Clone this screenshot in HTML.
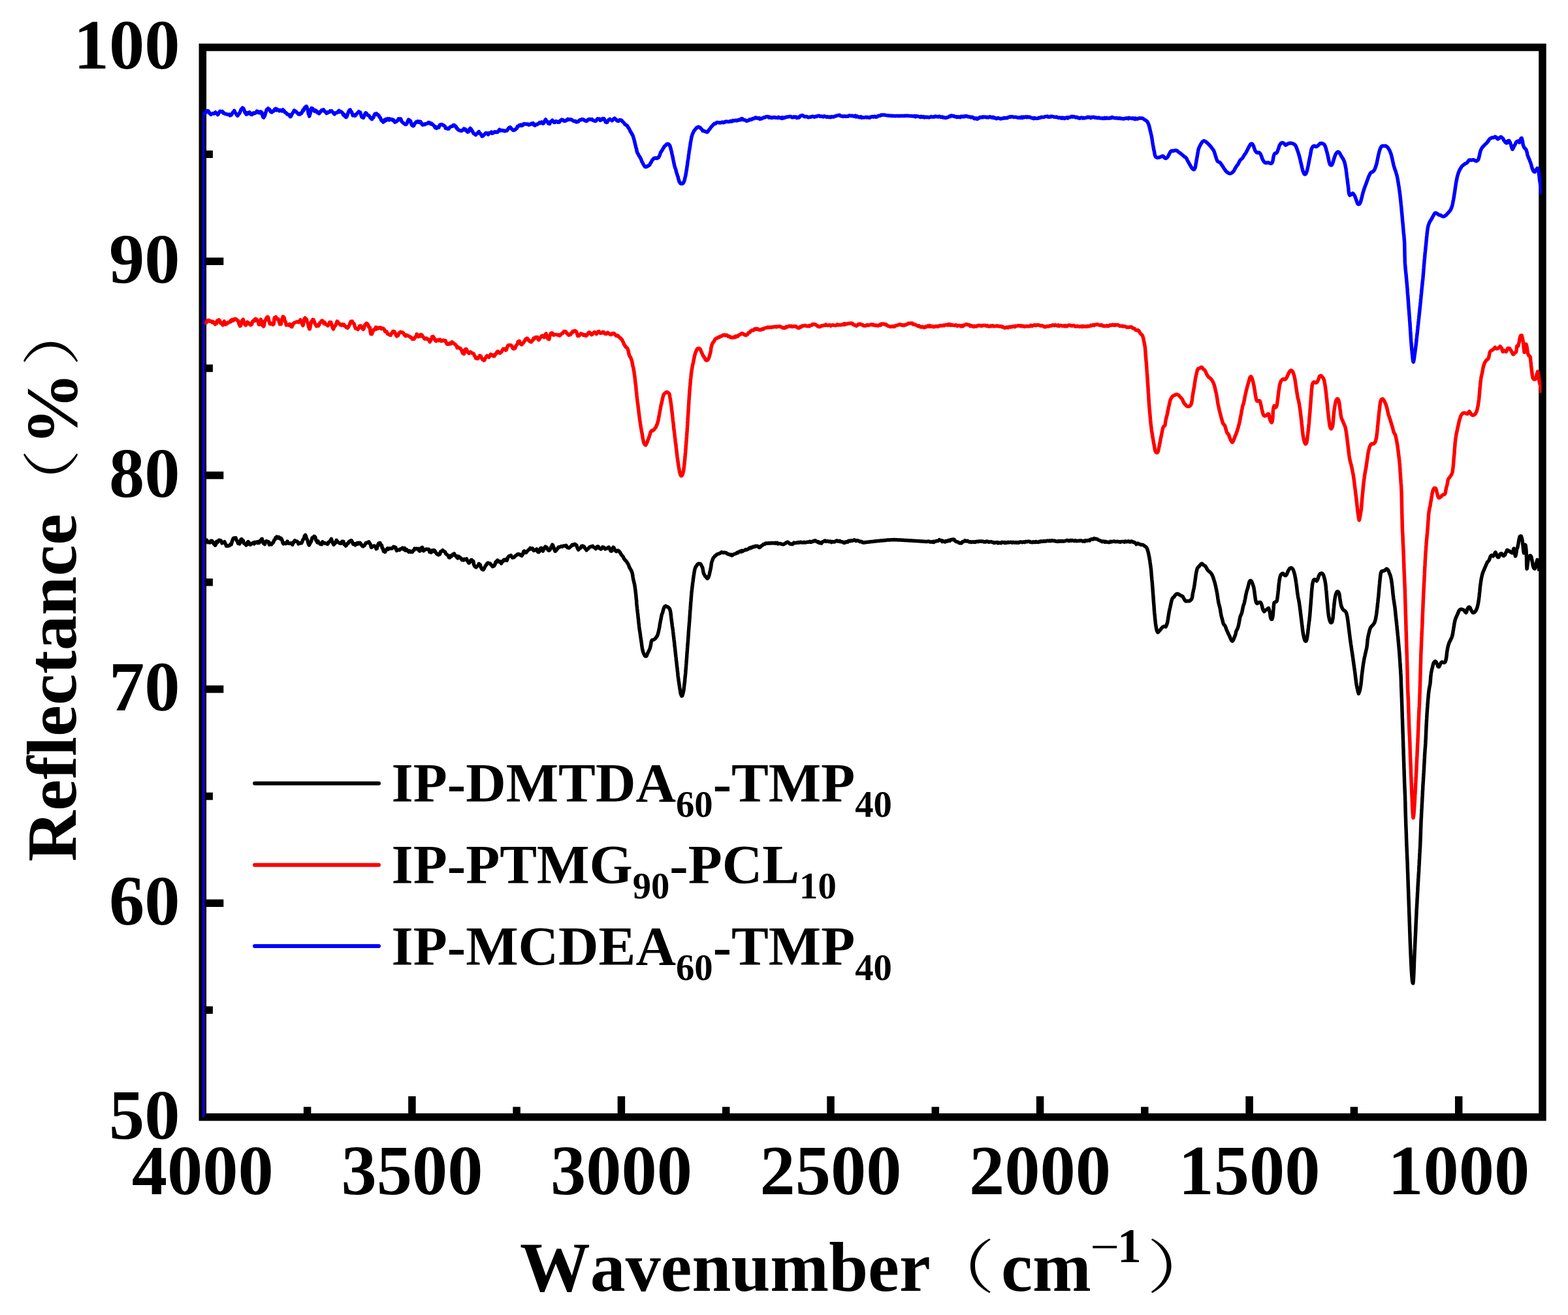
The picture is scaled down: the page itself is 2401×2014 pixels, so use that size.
<!DOCTYPE html>
<html lang="en"><head><meta charset="utf-8"><title>FTIR Reflectance Spectra</title>
<style>
html,body{margin:0;padding:0;background:#fff;}
body{width:2401px;height:2014px;overflow:hidden;}
svg{display:block;}
text{font-family:"Liberation Serif","Noto Serif CJK SC",serif;font-weight:bold;fill:#000;font-kerning:none;white-space:pre;}
.mn{font-weight:normal;}
.cjk{font-family:"Noto Serif CJK SC","Liberation Serif",serif;font-weight:normal;}
</style></head><body>
<svg width="2401" height="2014" viewBox="0 0 2401 2014">
<rect width="2401" height="2014" fill="#fff"/>
<rect x="310.3" y="72.5" width="2051.6" height="1638.4" fill="none" stroke="#000" stroke-width="11.5"/>
<path d="M470.6 1710.9 v-15.6 M630.9 1710.9 v-32.0 M791.1 1710.9 v-15.6 M951.4 1710.9 v-32.0 M1111.7 1710.9 v-15.6 M1272.0 1710.9 v-32.0 M1432.3 1710.9 v-15.6 M1592.6 1710.9 v-32.0 M1752.8 1710.9 v-15.6 M1913.1 1710.9 v-32.0 M2073.4 1710.9 v-15.6 M2233.7 1710.9 v-32.0 M310.3 1547.1 h15.6 M310.3 1383.2 h32.0 M310.3 1219.4 h15.6 M310.3 1055.5 h32.0 M310.3 891.7 h15.6 M310.3 727.9 h32.0 M310.3 564.0 h15.6 M310.3 400.2 h32.0 M310.3 236.3 h15.6" stroke="#000" stroke-width="11.5" fill="none"/>
<clipPath id="pc"><rect x="309.9" y="72.5" width="2050.6" height="1638.4"/></clipPath>
<g clip-path="url(#pc)" fill="none" stroke-width="5.5" stroke-linejoin="round" stroke-linecap="butt">
<path d="M310.45 1760 L310.45 827.0 L316.2 827.0 317.1 828.2 318.3 830.7 319.7 830.3 321.0 831.0 322.0 830.8 322.9 828.3 323.8 828.3 324.8 828.5 325.6 830.4 326.5 830.4 327.4 833.2 328.6 833.4 329.5 835.2 330.7 833.3 331.8 829.3 333.1 830.6 334.2 829.1 335.2 827.3 336.6 827.6 337.8 827.7 338.9 829.1 340.0 832.0 341.0 830.6 342.0 830.6 342.9 830.4 343.8 829.7 344.7 832.1 345.6 833.4 346.5 836.1 347.6 835.8 348.7 836.3 349.9 835.7 351.2 835.8 352.3 834.5 353.3 833.1 354.2 833.8 354.8 831.6 355.4 828.9 356.2 826.9 357.2 824.7 358.5 823.9 359.7 824.1 361.0 823.8 362.1 827.6 363.3 828.5 364.5 832.1 365.7 831.5 366.7 832.9 367.8 831.0 368.8 826.4 369.8 825.6 370.9 827.6 372.1 827.5 373.4 832.0 374.6 832.8 375.8 833.3 376.9 835.0 377.9 834.2 378.9 830.9 380.0 829.6 381.1 830.8 382.2 833.9 383.4 834.2 384.8 832.5 385.8 832.8 386.9 831.8 388.0 831.1 389.2 832.9 390.4 830.3 391.4 831.2 392.7 830.6 393.9 829.8 395.0 831.7 396.1 829.6 397.1 831.1 398.3 828.2 399.4 827.7 400.4 825.6 401.3 825.4 402.4 829.6 403.3 832.1 404.4 832.2 405.4 833.6 406.6 829.6 407.9 828.6 409.0 829.3 410.1 829.5 411.1 829.7 412.4 834.1 413.4 831.8 414.6 832.1 415.8 833.8 417.0 832.0 418.1 831.2 419.2 828.9 420.2 826.8 421.1 826.2 421.9 823.4 422.9 823.4 423.7 822.1 424.8 822.2 425.8 824.0 427.0 822.6 428.2 823.5 429.5 825.5 430.6 824.7 431.8 826.6 433.0 831.3 434.1 832.8 435.2 832.0 436.5 831.8 437.6 832.6 438.7 832.0 440.0 829.0 441.0 831.8 442.1 832.2 443.3 832.1 444.4 832.3 445.6 831.8 446.7 831.7 447.9 834.2 449.0 830.4 450.1 830.5 451.3 827.8 452.4 829.2 453.5 828.9 454.7 829.0 455.9 830.0 457.0 833.0 458.1 831.4 459.4 831.7 460.5 832.0 461.7 831.7 462.9 829.4 464.0 826.1 465.2 825.4 466.4 820.6 467.6 819.4 468.5 821.6 469.5 824.8 470.5 826.6 471.5 830.2 472.4 833.2 473.3 835.0 474.4 832.7 475.4 831.0 476.3 829.6 477.2 826.9 478.1 823.9 479.1 823.0 480.1 822.5 481.0 821.4 481.9 821.8 482.8 822.8 483.8 827.4 484.7 828.3 485.7 830.6 486.8 828.6 488.0 831.7 489.2 832.0 490.5 833.3 491.6 831.8 492.7 833.6 493.9 829.9 495.0 831.0 496.2 831.4 497.3 832.1 498.5 832.0 499.6 832.5 500.8 833.1 501.9 833.3 503.0 830.4 504.1 829.9 505.2 828.8 506.3 827.3 507.2 825.3 508.3 828.0 509.2 830.9 510.0 832.6 511.0 834.2 512.0 833.0 513.0 832.3 514.1 830.7 515.2 827.4 516.2 828.6 517.4 830.2 518.7 831.1 519.8 831.9 521.0 831.5 521.9 832.3 522.9 830.8 523.8 829.4 524.8 830.6 525.8 829.3 527.0 833.7 528.2 833.3 529.5 836.1 530.5 835.0 531.6 832.8 532.8 832.6 534.0 830.2 535.1 829.1 536.2 829.5 537.4 827.7 538.5 828.1 539.7 830.8 540.8 833.5 541.9 832.8 543.1 832.8 544.2 834.8 545.4 833.4 546.5 832.0 547.6 833.2 548.9 831.3 550.1 832.6 551.2 831.4 552.4 832.6 553.5 834.7 554.6 836.2 555.8 836.9 557.1 835.3 558.1 835.4 559.2 833.4 560.4 831.4 561.6 831.3 562.8 831.2 563.8 830.4 564.8 829.8 566.0 832.1 566.8 832.8 567.6 835.6 568.6 838.4 569.7 837.8 571.0 836.5 572.3 836.0 573.3 836.1 574.4 836.8 575.2 838.1 576.2 840.7 577.1 840.2 578.0 836.7 579.0 833.6 580.0 832.2 581.0 834.5 581.9 831.5 582.9 834.1 583.8 834.6 584.5 835.4 585.2 839.4 586.0 839.4 586.7 842.1 587.6 844.5 588.6 843.3 589.7 845.4 590.9 842.5 592.1 841.1 593.3 839.9 594.4 841.3 595.6 840.1 596.7 840.2 597.9 839.8 599.0 839.9 600.0 840.1 601.3 839.0 602.6 837.3 603.7 838.4 604.8 837.9 605.7 838.3 606.5 841.3 607.4 843.4 608.6 842.2 609.5 842.4 610.5 842.1 611.6 842.5 612.7 841.1 613.9 840.7 615.1 840.6 616.2 839.2 617.3 840.7 618.4 841.5 619.5 839.4 620.5 843.0 621.6 843.0 622.7 841.6 623.8 843.2 624.9 844.1 626.0 845.3 627.2 843.6 628.3 844.4 629.4 845.5 630.4 845.1 631.4 845.4 632.7 843.1 633.9 842.7 634.9 840.0 636.0 840.8 637.1 840.6 638.3 840.2 639.6 841.2 640.8 840.4 641.9 843.5 642.9 844.0 644.0 842.8 644.8 839.3 645.7 839.2 646.6 838.4 647.5 842.1 648.5 843.6 649.5 842.8 650.6 841.6 651.8 841.7 653.1 841.0 654.3 841.4 655.5 841.2 656.7 841.2 657.9 845.4 659.0 843.8 660.2 846.1 661.2 843.2 662.4 842.9 663.8 844.3 664.7 842.6 665.8 843.4 666.9 845.6 668.0 847.3 669.2 848.7 670.3 848.8 671.4 849.9 672.5 848.1 673.6 848.8 674.6 844.9 675.7 844.2 676.8 844.1 677.9 842.7 679.0 844.1 680.2 844.5 681.5 845.5 682.8 848.2 684.0 849.2 685.3 850.1 686.5 851.7 687.6 853.9 688.9 854.1 690.0 851.2 691.1 852.0 692.2 851.2 693.3 848.9 694.3 848.7 695.5 848.0 696.7 850.2 697.9 851.4 699.0 853.0 700.0 852.0 701.1 855.0 702.0 853.2 702.8 852.4 703.8 853.8 704.9 854.1 706.1 855.5 707.4 857.7 708.6 856.7 709.8 857.8 711.0 856.4 712.2 856.9 713.3 856.6 714.4 855.8 715.3 858.3 716.2 859.2 717.1 861.2 718.1 862.2 719.1 861.5 720.0 859.2 721.0 858.0 722.2 857.3 723.3 858.5 724.4 860.4 725.0 860.0 725.4 864.5 725.9 865.0 726.7 867.2 727.7 867.8 729.0 868.9 730.3 867.2 731.4 866.7 732.5 866.2 733.3 863.3 734.3 864.9 735.3 865.0 736.5 869.1 737.7 871.3 739.0 872.4 740.1 872.7 741.3 870.7 742.5 868.3 743.7 866.2 744.8 864.9 746.0 862.7 747.1 862.0 748.3 862.7 749.5 862.8 750.6 863.1 751.8 865.2 753.0 865.9 754.2 867.7 755.2 866.4 756.3 867.0 757.3 865.6 758.1 864.0 759.0 860.9 760.0 859.9 760.9 860.5 761.8 858.0 762.9 859.9 764.0 860.3 765.2 859.7 766.5 861.2 767.6 863.0 768.6 861.1 769.5 859.2 770.4 859.5 771.4 857.4 772.6 858.3 773.8 857.0 775.0 858.1 776.2 858.5 777.2 855.2 778.1 853.3 779.0 852.2 780.0 851.4 781.1 851.6 782.3 850.6 783.5 852.7 784.8 854.1 786.0 853.5 787.1 853.7 788.3 852.1 789.5 851.2 790.7 850.4 792.0 849.0 793.2 849.1 794.3 848.5 795.3 849.1 796.2 849.3 797.2 850.5 798.1 850.8 799.0 851.2 800.0 849.7 801.0 847.5 801.9 844.3 802.9 844.0 803.8 846.4 804.8 845.7 805.7 846.4 806.6 844.7 807.6 844.0 808.5 843.0 809.5 841.8 810.7 841.5 811.9 839.5 813.1 840.6 814.3 840.9 815.3 839.9 816.2 841.6 817.2 843.3 818.1 843.1 819.1 842.5 820.1 841.9 821.0 842.1 821.9 840.9 822.9 844.0 823.8 845.4 824.8 845.7 825.7 844.9 826.7 842.3 827.7 839.8 828.6 839.2 829.6 840.0 830.4 843.3 831.4 844.0 832.3 841.6 833.2 840.8 834.2 838.2 835.2 837.2 836.2 837.9 837.3 838.6 838.4 841.4 839.6 842.9 840.6 843.2 841.8 842.4 842.9 840.5 843.9 837.6 844.8 836.7 845.8 834.2 846.7 835.4 847.4 837.4 848.2 839.1 849.1 842.3 850.1 844.2 851.1 843.8 852.0 841.6 853.1 841.2 854.3 839.3 855.3 838.0 856.5 838.1 857.6 837.5 858.8 837.1 860.0 836.5 861.1 837.3 862.3 836.2 863.4 836.1 864.6 836.1 865.7 836.6 866.9 835.4 868.0 837.5 869.2 838.8 870.3 838.8 871.4 839.3 872.7 838.1 873.8 837.1 875.0 836.0 876.2 834.4 877.3 834.1 878.5 834.7 879.7 833.6 880.9 833.5 881.9 834.6 883.0 835.5 883.9 838.7 884.7 840.4 885.7 842.0 886.9 840.3 888.1 839.8 889.3 838.5 890.5 836.3 891.5 837.5 892.4 836.2 893.4 837.0 894.3 837.1 895.2 838.6 896.1 840.3 897.1 840.7 898.1 842.7 899.2 841.4 900.4 840.5 901.6 839.3 902.9 838.0 904.0 837.2 905.2 837.2 906.4 836.7 907.6 836.3 908.9 837.9 910.1 838.6 911.3 839.5 912.4 840.5 913.4 839.1 914.3 837.2 915.2 837.1 916.1 837.0 917.0 839.1 918.0 840.1 919.0 839.8 920.2 841.0 921.4 840.1 922.7 837.9 923.8 838.8 924.8 838.4 925.7 839.3 926.6 840.8 927.6 840.1 928.8 840.1 930.0 839.7 931.2 838.6 932.4 838.1 933.4 840.2 934.4 842.1 935.3 843.9 936.2 844.1 937.2 843.3 938.1 840.1 939.0 838.2 939.9 838.7 940.9 841.1 941.9 842.5 942.9 844.2 943.8 844.7 944.8 843.9 945.8 843.1 946.7 843.4 947.7 843.8 948.5 845.2 949.5 846.2 950.4 847.9 951.4 849.3 952.4 850.7 953.3 851.6 954.3 852.9 955.2 855.2 956.2 856.5 957.1 857.7 958.2 858.8 959.3 859.9 960.3 861.6 961.3 863.0 962.3 864.9 963.1 867.1 964.0 869.4 964.8 870.6 965.8 872.3 966.8 874.3 967.6 876.1 968.1 877.8 968.4 879.0 968.8 881.2 969.1 883.7 969.5 886.1 970.0 888.5 970.5 890.1 971.0 892.8 971.5 894.6 972.0 897.2 972.3 899.8 972.6 901.7 972.9 904.0 973.2 906.0 973.4 908.4 973.7 910.3 973.9 912.7 974.1 915.3 974.3 917.5 974.5 918.8 974.7 921.0 974.8 923.9 975.0 925.9 975.2 928.4 975.5 930.1 975.7 932.8 976.0 935.1 976.3 938.1 976.6 940.1 976.9 942.9 977.1 945.7 977.4 947.5 977.7 950.2 977.9 952.8 978.2 955.5 978.5 957.4 978.7 959.8 979.0 962.0 979.4 965.3 979.7 967.0 980.1 969.5 980.5 972.5 980.8 974.9 981.2 977.5 981.5 979.3 981.9 982.3 982.2 984.0 982.5 986.4 982.8 989.1 983.1 990.5 983.4 992.7 984.0 995.7 984.5 997.9 985.1 999.5 985.7 1001.1 986.7 1003.1 987.7 1004.7 988.6 1005.1 989.3 1005.0 990.0 1004.6 990.7 1002.9 991.5 1001.2 992.3 999.2 993.5 997.0 994.8 994.1 995.4 992.4 996.1 989.5 996.6 987.2 996.9 985.0 997.2 983.3 997.7 981.6 998.6 980.2 999.7 980.2 1000.8 979.9 1001.9 979.1 1003.1 978.2 1004.2 977.1 1005.1 975.6 1006.0 974.5 1006.8 973.0 1007.5 970.6 1008.1 968.6 1008.7 965.9 1009.1 963.6 1009.5 962.2 1009.9 960.3 1010.2 957.7 1010.5 955.4 1010.9 953.9 1011.2 952.0 1011.6 950.0 1012.0 948.4 1012.4 946.0 1012.8 944.1 1013.3 941.5 1013.9 940.0 1014.6 938.4 1015.2 935.9 1015.7 933.9 1016.1 932.5 1016.7 931.1 1017.4 929.1 1018.3 928.9 1019.3 928.0 1020.3 928.8 1021.3 929.2 1022.3 929.5 1023.4 930.1 1024.5 931.4 1025.4 932.4 1026.0 934.3 1026.5 936.1 1026.9 938.4 1027.2 941.2 1027.5 943.1 1027.7 945.3 1028.0 947.7 1028.3 950.1 1028.6 952.4 1028.9 954.8 1029.2 956.7 1029.4 959.1 1029.7 960.9 1030.1 963.2 1030.4 965.2 1030.6 967.3 1030.9 969.4 1031.1 971.5 1031.3 973.2 1031.5 975.2 1031.8 977.4 1032.0 979.5 1032.2 981.2 1032.5 983.2 1032.7 985.0 1032.9 987.7 1033.1 990.0 1033.4 991.4 1033.6 993.2 1033.8 995.3 1034.0 997.5 1034.3 999.4 1034.5 1002.2 1034.7 1003.3 1034.9 1005.6 1035.2 1007.4 1035.4 1010.0 1035.6 1012.2 1035.9 1013.6 1036.1 1015.5 1036.3 1018.0 1036.5 1020.2 1036.8 1022.6 1037.0 1023.7 1037.2 1025.8 1037.4 1027.9 1037.7 1030.0 1037.9 1032.1 1038.1 1034.7 1038.3 1036.6 1038.6 1038.2 1038.9 1040.5 1039.2 1042.9 1039.6 1045.0 1039.9 1047.8 1040.3 1049.7 1040.6 1052.3 1041.0 1054.9 1041.3 1056.6 1041.7 1058.8 1042.1 1061.5 1042.6 1063.3 1043.2 1064.8 1043.9 1066.0 1044.7 1065.7 1045.4 1063.4 1045.9 1061.6 1046.3 1059.6 1046.8 1058.2 1047.1 1056.1 1047.3 1053.4 1047.6 1051.2 1047.9 1048.7 1048.1 1046.5 1048.4 1045.2 1048.6 1042.8 1048.8 1040.3 1049.0 1038.0 1049.2 1036.4 1049.4 1034.3 1049.6 1032.7 1049.8 1030.5 1049.9 1028.4 1050.1 1025.9 1050.3 1023.8 1050.4 1021.9 1050.6 1019.8 1050.7 1018.4 1050.9 1016.0 1051.0 1014.1 1051.2 1012.4 1051.4 1009.6 1051.5 1007.9 1051.7 1005.4 1051.8 1004.0 1051.9 1001.2 1052.1 1000.0 1052.2 998.0 1052.4 995.9 1052.5 993.1 1052.7 991.2 1052.8 989.7 1053.0 987.0 1053.2 985.3 1053.3 983.3 1053.5 981.7 1053.6 979.3 1053.8 977.6 1053.9 974.9 1054.1 973.4 1054.2 971.0 1054.3 969.4 1054.5 966.5 1054.6 965.3 1054.8 962.6 1054.9 960.9 1055.1 958.8 1055.3 956.4 1055.4 955.1 1055.6 952.5 1055.8 950.4 1055.9 948.1 1056.1 946.3 1056.2 944.5 1056.3 942.7 1056.5 940.3 1056.6 938.6 1056.7 935.9 1056.9 934.2 1057.1 932.2 1057.2 930.7 1057.4 928.5 1057.5 926.3 1057.7 923.6 1057.8 921.9 1058.0 920.2 1058.2 917.7 1058.3 916.0 1058.5 914.0 1058.6 911.8 1058.7 911.1 1058.9 908.7 1059.2 905.4 1059.5 903.9 1059.7 901.3 1060.0 898.9 1060.3 896.5 1060.6 893.6 1061.0 891.1 1061.3 888.6 1061.6 886.5 1061.9 884.0 1062.3 881.2 1062.7 879.2 1063.0 876.5 1063.4 875.0 1063.7 872.7 1064.2 871.2 1065.2 868.2 1066.4 866.9 1067.6 864.8 1068.5 864.0 1069.5 863.2 1070.5 863.4 1071.4 863.5 1072.4 863.6 1073.4 864.8 1074.4 866.7 1075.2 868.2 1075.8 869.5 1076.2 871.9 1076.6 874.2 1077.0 876.4 1077.5 878.5 1078.6 880.2 1079.9 882.6 1081.0 883.3 1082.2 885.2 1083.2 886.0 1084.4 884.8 1085.7 881.8 1086.3 879.3 1086.9 876.7 1087.5 874.1 1088.1 870.9 1088.6 868.9 1088.9 866.7 1089.2 864.8 1089.4 862.4 1090.0 860.2 1090.9 858.0 1092.0 854.9 1093.3 853.3 1095.0 851.4 1096.0 851.0 1097.2 849.3 1098.5 848.8 1099.8 848.2 1101.2 847.9 1102.5 847.3 1103.8 846.5 1105.0 845.5 1106.3 846.3 1107.5 846.6 1108.7 846.2 1109.8 846.3 1111.0 846.9 1112.2 846.8 1113.3 848.0 1114.5 848.8 1115.7 848.5 1116.9 849.3 1118.1 849.9 1119.3 849.3 1120.5 850.7 1121.7 850.2 1122.9 849.3 1124.0 848.6 1125.2 848.3 1126.4 848.1 1127.6 847.5 1128.8 846.3 1130.0 846.7 1131.2 845.3 1132.4 845.1 1133.6 844.2 1134.8 845.2 1136.0 843.5 1137.1 844.4 1138.3 843.4 1139.5 843.0 1140.7 842.5 1141.8 841.6 1143.0 842.1 1144.2 841.7 1145.4 841.0 1146.7 840.2 1147.9 839.0 1149.1 839.6 1150.4 838.2 1151.8 838.7 1153.1 837.2 1154.4 837.3 1155.6 837.4 1156.7 836.2 1158.0 836.7 1159.1 836.2 1160.2 836.5 1161.2 837.1 1162.3 838.5 1163.3 838.4 1164.4 837.5 1165.4 836.2 1166.5 835.9 1167.5 835.1 1168.7 833.8 1170.0 833.5 1171.1 833.5 1172.3 832.0 1173.5 832.1 1174.8 832.3 1176.1 831.7 1177.4 832.0 1178.7 832.2 1180.0 831.5 1181.2 832.0 1182.5 831.5 1183.8 831.9 1185.0 831.6 1186.2 832.1 1187.5 831.2 1188.8 832.2 1190.0 831.4 1191.3 832.9 1192.6 832.5 1194.0 832.6 1195.3 832.7 1196.6 833.3 1197.9 833.6 1199.0 833.8 1200.0 833.7 1201.6 832.6 1202.7 832.3 1203.8 831.0 1205.0 830.6 1206.0 830.1 1207.1 830.7 1208.2 831.7 1209.4 833.0 1210.5 833.1 1211.7 833.4 1212.7 833.1 1213.7 833.5 1214.7 832.1 1215.7 831.1 1216.9 831.7 1218.3 831.6 1219.3 831.3 1220.4 831.0 1221.5 831.3 1222.7 830.6 1224.0 831.1 1225.2 830.3 1226.5 830.4 1227.7 830.9 1228.9 831.0 1230.0 830.8 1231.3 830.2 1232.7 831.1 1233.9 830.8 1235.2 830.2 1236.4 830.2 1237.7 830.2 1238.8 829.8 1240.0 829.3 1241.3 830.4 1242.5 830.2 1243.7 829.3 1244.8 829.3 1246.0 828.3 1247.2 828.8 1248.3 827.9 1249.5 829.0 1250.8 829.2 1252.0 830.4 1253.2 829.8 1254.4 831.5 1255.6 830.9 1256.7 831.7 1257.8 832.2 1258.9 830.2 1259.9 829.9 1260.9 829.3 1262.0 828.7 1263.3 828.0 1264.4 829.3 1265.6 829.3 1266.8 828.8 1268.1 829.0 1269.4 829.7 1270.8 829.1 1272.1 829.2 1273.3 830.6 1274.6 829.6 1275.8 829.7 1277.1 830.1 1278.3 829.8 1279.6 828.8 1280.8 828.1 1282.1 828.1 1283.3 829.0 1284.6 829.1 1285.8 828.3 1286.9 829.7 1288.1 829.4 1289.3 830.0 1290.6 829.9 1291.9 831.2 1293.3 831.4 1294.4 830.1 1295.6 830.5 1296.8 829.5 1298.1 830.2 1299.4 828.5 1300.6 828.2 1301.9 828.7 1303.2 827.7 1304.4 828.3 1305.6 828.0 1306.7 827.7 1308.1 826.8 1309.5 827.8 1310.8 828.4 1312.1 828.0 1313.3 827.7 1314.5 828.3 1315.6 828.8 1316.7 829.7 1317.9 829.2 1318.9 829.4 1319.8 829.8 1320.7 830.7 1321.9 831.1 1323.3 830.5 1324.3 830.9 1325.4 830.6 1326.5 830.5 1327.7 830.3 1328.9 830.2 1330.2 830.1 1331.5 830.0 1332.8 829.7 1334.2 829.6 1335.4 829.4 1336.7 829.4 1337.9 829.2 1339.0 829.1 1340.2 829.0 1341.4 828.8 1342.5 828.7 1343.7 828.6 1344.9 828.5 1346.1 828.4 1347.4 828.2 1348.7 828.1 1350.0 828.0 1351.1 827.9 1352.2 827.8 1353.4 827.7 1354.5 827.5 1355.7 827.5 1356.9 827.4 1358.1 827.1 1359.3 827.1 1360.6 827.0 1361.8 826.9 1363.0 826.9 1364.3 826.8 1365.5 826.7 1366.7 826.7 1367.9 826.7 1369.0 826.6 1370.2 826.7 1371.4 826.7 1372.6 826.7 1373.8 826.8 1375.0 826.9 1376.2 826.9 1377.4 827.0 1378.6 827.1 1379.8 827.1 1381.0 827.2 1382.1 827.2 1383.3 827.3 1384.5 827.4 1385.7 827.5 1386.9 827.6 1388.1 827.6 1389.3 827.7 1390.5 827.7 1391.7 827.8 1392.9 827.9 1394.0 828.0 1395.2 828.0 1396.4 828.1 1397.6 828.2 1398.8 828.3 1400.0 828.3 1401.2 828.5 1402.4 828.4 1403.6 828.5 1404.9 828.6 1406.1 828.7 1407.3 828.8 1408.5 828.8 1409.8 828.9 1411.0 829.0 1412.1 829.0 1413.3 829.2 1414.5 829.2 1415.6 829.3 1416.7 829.4 1418.0 829.4 1419.4 829.5 1420.7 829.3 1422.0 829.0 1423.2 829.6 1424.5 830.1 1425.7 830.1 1426.8 829.7 1427.9 830.2 1429.0 829.4 1430.0 830.5 1431.5 829.2 1432.8 829.0 1434.0 828.3 1435.1 828.6 1436.2 828.4 1437.3 827.9 1438.3 826.6 1439.5 827.3 1440.6 827.6 1441.7 827.8 1442.7 829.5 1443.8 828.4 1445.0 829.3 1446.1 829.7 1447.3 830.0 1448.5 828.4 1449.8 828.7 1451.0 828.9 1452.2 827.5 1453.3 827.6 1454.5 828.3 1455.6 826.7 1456.6 826.7 1457.6 826.3 1458.7 826.4 1460.0 826.0 1461.1 826.3 1462.3 828.5 1463.7 829.0 1465.0 829.8 1466.3 829.9 1467.7 830.7 1468.9 831.8 1470.0 831.6 1471.2 831.8 1472.2 832.0 1473.1 830.4 1474.1 829.5 1475.2 829.8 1476.7 828.8 1477.6 827.9 1478.6 828.5 1479.7 829.0 1480.9 828.2 1482.1 828.8 1483.3 829.6 1484.6 830.0 1485.9 829.8 1487.3 830.4 1488.6 829.9 1490.0 829.8 1491.1 830.5 1492.2 829.8 1493.4 830.4 1494.5 829.4 1495.7 829.6 1496.9 829.2 1498.1 829.7 1499.3 829.0 1500.6 829.0 1501.8 829.0 1503.0 829.3 1504.3 829.0 1505.5 829.2 1506.7 830.1 1507.9 829.7 1509.0 830.0 1510.2 829.1 1511.4 829.5 1512.6 829.2 1513.8 830.3 1515.0 829.9 1516.2 829.9 1517.4 829.7 1518.6 830.1 1519.8 830.3 1521.0 830.7 1522.1 831.6 1523.3 831.3 1524.5 830.7 1525.7 830.9 1526.9 830.6 1528.1 831.8 1529.3 830.9 1530.5 831.5 1531.7 831.5 1532.9 831.7 1534.0 830.3 1535.2 830.8 1536.4 830.8 1537.6 830.4 1538.8 831.6 1540.0 830.7 1541.2 831.4 1542.4 831.0 1543.6 830.3 1544.9 830.9 1546.1 830.6 1547.3 830.3 1548.5 830.5 1549.8 831.2 1551.0 830.3 1552.1 830.8 1553.3 830.9 1554.5 831.1 1555.6 830.5 1556.7 831.3 1558.0 830.6 1559.3 831.2 1560.5 831.0 1561.8 830.1 1563.0 830.1 1564.1 830.1 1565.3 830.7 1566.5 830.1 1567.6 830.0 1568.8 830.6 1570.0 829.6 1571.2 829.6 1572.4 829.7 1573.6 829.5 1574.8 829.2 1576.1 829.2 1577.3 830.2 1578.5 830.1 1579.7 830.5 1580.9 830.8 1582.1 829.7 1583.3 830.3 1584.5 830.6 1585.8 829.5 1587.0 830.2 1588.2 830.1 1589.4 830.5 1590.6 830.3 1591.8 829.2 1593.0 829.8 1594.2 828.8 1595.5 829.3 1596.7 829.2 1597.9 828.6 1599.1 829.0 1600.3 828.8 1601.5 828.9 1602.7 828.4 1603.9 828.1 1605.2 828.4 1606.4 828.4 1607.6 827.9 1608.8 828.6 1610.0 827.9 1611.2 827.7 1612.4 828.2 1613.6 828.4 1614.8 828.1 1616.1 828.9 1617.3 829.2 1618.5 829.1 1619.7 829.5 1620.9 828.5 1622.1 829.2 1623.3 829.1 1624.5 828.6 1625.8 829.1 1627.0 828.4 1628.2 829.0 1629.4 828.9 1630.6 828.6 1631.8 828.2 1633.0 827.9 1634.2 827.4 1635.5 827.8 1636.7 828.6 1637.9 828.1 1639.1 827.5 1640.3 828.2 1641.5 827.4 1642.7 827.8 1643.9 828.1 1645.2 828.6 1646.4 827.7 1647.6 828.1 1648.8 828.7 1650.0 828.4 1651.2 828.2 1652.4 828.3 1653.6 828.0 1654.8 828.1 1656.1 828.0 1657.3 828.9 1658.5 829.0 1659.7 828.3 1660.9 829.1 1662.1 827.7 1663.3 827.8 1664.6 828.2 1665.8 827.6 1667.1 827.4 1668.3 828.0 1669.6 826.3 1670.8 826.0 1672.1 825.7 1673.3 826.1 1674.4 825.1 1675.6 824.6 1676.7 825.4 1678.1 825.3 1679.4 825.4 1680.7 826.2 1681.9 827.0 1683.1 827.4 1684.2 828.0 1685.4 828.4 1686.7 829.2 1687.9 829.7 1689.2 828.9 1690.4 829.2 1691.7 830.2 1692.9 829.4 1694.2 830.2 1695.4 830.2 1696.7 830.3 1697.9 830.7 1699.2 830.4 1700.4 829.3 1701.7 829.9 1702.9 829.5 1704.2 829.5 1705.4 829.1 1706.7 829.0 1707.9 829.8 1709.2 829.6 1710.4 829.3 1711.7 829.5 1712.9 829.8 1714.2 829.7 1715.4 830.3 1716.7 829.7 1717.9 829.6 1719.2 829.5 1720.4 829.4 1721.7 830.2 1722.9 829.0 1724.2 829.4 1725.4 829.8 1726.7 829.3 1728.0 828.8 1729.3 830.0 1730.7 830.1 1732.1 828.9 1733.4 829.3 1734.6 829.9 1735.7 830.6 1736.7 830.2 1738.3 831.6 1739.2 832.1 1740.0 833.6 1741.0 832.7 1742.0 832.0 1743.0 832.4 1744.0 832.9 1745.0 833.6 1745.9 833.8 1746.9 834.3 1747.9 834.4 1748.9 834.2 1749.9 834.4 1750.9 835.0 1752.0 835.7 1753.0 836.5 1754.1 837.2 1755.2 838.0 1756.0 839.4 1756.8 841.1 1757.5 843.5 1758.1 845.4 1758.6 847.5 1759.0 849.5 1759.5 851.9 1759.9 853.9 1760.3 856.2 1760.7 858.4 1761.0 861.1 1761.3 863.3 1761.7 865.5 1762.0 868.2 1762.3 870.5 1762.6 873.0 1762.8 875.5 1763.0 878.1 1763.2 880.6 1763.4 882.8 1763.6 885.3 1763.8 887.6 1764.1 890.2 1764.3 892.6 1764.5 895.0 1764.7 897.5 1764.9 900.1 1765.1 902.5 1765.2 904.8 1765.4 907.2 1765.6 909.8 1765.8 912.2 1766.0 914.7 1766.1 917.0 1766.3 919.5 1766.5 921.9 1766.7 924.4 1766.9 926.7 1767.1 929.1 1767.2 931.5 1767.4 934.2 1767.6 936.5 1767.8 939.0 1768.1 941.4 1768.3 943.9 1768.5 946.1 1768.7 948.6 1769.0 950.7 1769.2 953.0 1769.4 954.9 1769.7 956.9 1770.1 959.3 1770.5 961.6 1770.8 963.6 1771.2 965.2 1772.0 967.3 1772.8 968.5 1773.7 967.9 1774.7 966.7 1775.6 965.9 1776.4 964.9 1777.3 964.0 1778.2 962.6 1779.0 961.8 1779.9 960.8 1780.8 960.0 1781.8 959.6 1782.7 959.2 1783.8 959.7 1785.0 960.0 1785.7 958.8 1786.5 956.9 1787.2 954.6 1787.7 952.9 1788.0 950.8 1788.4 948.7 1788.8 946.3 1789.1 944.1 1789.5 941.8 1789.9 939.3 1790.3 937.0 1790.7 934.9 1791.2 932.7 1791.7 930.6 1792.1 928.7 1792.6 926.4 1793.1 924.0 1793.6 921.9 1794.1 919.7 1794.6 918.0 1795.2 916.7 1796.3 915.1 1797.6 914.3 1798.7 912.8 1799.7 911.3 1800.9 910.2 1802.2 909.4 1803.0 909.5 1803.9 909.7 1804.8 910.1 1805.7 910.7 1806.8 911.2 1807.8 912.1 1808.9 912.4 1809.9 912.9 1810.9 913.4 1812.0 915.4 1813.1 917.2 1814.2 919.3 1815.4 920.6 1816.4 920.8 1817.5 920.5 1818.5 920.4 1819.6 920.7 1820.8 920.6 1821.7 920.3 1822.6 919.6 1823.5 918.8 1824.5 917.8 1825.3 915.8 1825.7 914.1 1825.9 912.3 1826.2 910.3 1826.6 908.1 1827.0 906.3 1827.4 904.2 1827.9 902.1 1828.4 899.7 1828.8 897.3 1829.2 894.9 1829.5 892.4 1829.9 889.9 1830.2 887.6 1830.5 885.6 1830.8 883.3 1831.1 881.2 1831.4 879.2 1831.8 877.0 1832.3 874.5 1832.8 872.6 1833.3 870.8 1834.4 869.1 1835.7 867.7 1836.6 866.9 1837.4 865.6 1838.3 864.9 1839.4 863.6 1840.6 863.2 1841.7 864.3 1842.9 865.4 1843.7 865.9 1844.6 866.3 1845.4 866.9 1846.4 868.2 1847.4 870.0 1848.2 871.3 1849.1 872.8 1850.0 873.8 1851.1 875.0 1852.4 875.8 1853.5 877.0 1854.6 878.2 1855.6 879.8 1856.6 881.6 1857.4 883.8 1858.2 886.1 1858.9 888.4 1859.5 890.4 1860.1 892.1 1860.7 894.6 1861.2 896.6 1861.7 898.9 1862.2 901.4 1862.7 903.6 1863.1 905.7 1863.5 907.7 1863.8 909.8 1864.2 912.0 1864.6 914.4 1864.9 916.8 1865.3 919.5 1865.7 921.9 1866.2 924.2 1866.8 926.5 1867.4 928.8 1868.0 930.9 1868.4 933.1 1868.8 935.5 1869.1 937.7 1869.5 939.7 1869.8 941.8 1870.3 944.0 1870.8 945.8 1871.3 947.7 1871.8 949.2 1872.3 951.7 1872.8 953.7 1873.3 955.3 1874.1 956.7 1875.1 957.5 1875.9 958.6 1876.6 960.2 1877.2 962.0 1877.9 963.8 1878.6 965.8 1879.4 967.3 1880.2 969.3 1881.3 971.5 1882.5 973.6 1883.2 975.6 1884.0 977.4 1884.8 979.1 1885.9 981.3 1887.0 982.0 1888.2 980.7 1889.3 978.3 1890.1 976.3 1890.9 974.3 1891.6 972.3 1892.2 970.1 1892.6 967.9 1893.1 966.2 1894.3 964.0 1895.4 961.6 1895.9 959.9 1896.4 958.2 1896.8 956.1 1897.3 953.8 1897.7 951.4 1898.2 948.7 1898.7 946.1 1899.2 944.0 1900.0 942.1 1900.8 940.7 1901.5 938.5 1902.0 936.5 1902.5 934.1 1902.9 931.8 1903.4 929.6 1904.0 927.4 1904.7 925.3 1905.3 923.6 1905.7 921.6 1906.1 919.8 1906.5 918.0 1906.9 915.9 1907.3 913.5 1907.8 911.2 1908.3 908.8 1908.8 906.5 1909.4 904.5 1910.0 902.7 1910.7 900.6 1911.2 898.3 1911.8 895.8 1912.4 893.4 1913.0 891.3 1914.1 889.4 1915.2 889.2 1916.4 890.5 1917.5 892.8 1918.3 894.8 1919.1 897.3 1919.8 899.8 1920.2 902.0 1920.6 904.4 1921.0 907.3 1921.3 909.8 1921.6 912.0 1921.9 914.2 1922.2 916.5 1922.5 918.6 1922.9 920.3 1923.7 923.1 1924.7 924.2 1925.5 924.1 1926.5 923.2 1927.4 922.7 1928.4 922.4 1929.3 922.5 1930.2 922.6 1931.2 924.3 1932.0 926.4 1932.5 928.4 1933.0 930.6 1933.5 932.7 1934.6 934.9 1935.8 936.5 1937.0 935.6 1938.1 934.1 1939.3 933.8 1940.4 933.3 1941.4 932.0 1942.4 931.4 1943.0 932.6 1943.6 934.5 1944.2 937.1 1944.6 939.3 1945.0 941.9 1945.3 944.5 1945.7 946.2 1946.6 948.4 1947.5 948.6 1948.1 947.5 1948.6 945.7 1949.1 943.1 1949.3 941.5 1949.5 939.2 1949.6 937.0 1949.8 934.6 1950.0 932.7 1950.2 930.1 1950.4 927.5 1950.7 925.2 1951.0 923.3 1952.1 922.3 1953.3 921.8 1954.3 921.5 1955.2 920.3 1955.5 919.0 1955.8 917.2 1956.1 915.0 1956.4 912.9 1956.6 911.0 1956.9 908.6 1957.1 906.5 1957.4 904.3 1957.6 902.1 1957.8 899.9 1958.0 897.7 1958.2 895.6 1958.4 893.4 1958.7 891.6 1959.0 889.2 1959.4 887.0 1959.8 884.7 1960.2 883.2 1961.1 880.7 1962.2 879.3 1963.0 878.8 1963.8 878.2 1964.8 878.5 1965.8 879.3 1966.8 880.8 1967.8 881.4 1969.0 881.4 1970.1 879.9 1970.9 878.4 1971.6 876.4 1972.4 874.6 1973.5 872.6 1974.7 870.7 1975.7 870.1 1976.7 869.8 1977.7 869.8 1978.9 870.7 1980.0 872.3 1980.8 874.4 1981.6 876.7 1982.3 879.3 1982.8 881.2 1983.2 883.6 1983.7 885.8 1984.1 888.5 1984.4 890.5 1984.7 892.6 1985.0 894.4 1985.3 896.7 1985.6 899.1 1985.9 901.4 1986.2 903.8 1986.5 906.5 1986.8 908.8 1987.2 911.2 1987.5 913.4 1987.9 915.6 1988.4 917.6 1988.8 919.7 1989.1 921.9 1989.5 923.9 1989.8 926.2 1990.1 928.1 1990.4 930.3 1990.7 932.4 1991.0 934.8 1991.3 937.3 1991.6 939.8 1991.9 942.3 1992.2 944.9 1992.5 947.1 1992.8 949.7 1993.1 952.0 1993.4 954.7 1993.7 957.0 1994.0 959.4 1994.3 962.0 1994.6 964.6 1994.9 967.0 1995.2 969.1 1995.7 971.6 1996.2 974.1 1996.7 976.5 1997.2 978.4 1998.1 981.0 1999.0 982.0 2000.0 981.8 2000.9 979.7 2001.3 977.9 2001.7 975.7 2002.0 973.4 2002.4 970.7 2002.7 968.8 2002.9 966.4 2003.1 964.4 2003.4 962.1 2003.6 959.9 2003.9 957.6 2004.2 955.4 2004.5 952.8 2004.9 950.4 2005.1 947.9 2005.4 945.7 2005.6 943.5 2005.8 941.1 2006.0 938.7 2006.2 936.5 2006.4 934.1 2006.5 931.7 2006.7 929.6 2006.9 927.2 2007.1 924.9 2007.3 922.6 2007.4 920.4 2007.6 918.0 2007.8 915.7 2008.0 913.4 2008.1 911.0 2008.3 909.0 2008.5 906.5 2008.7 904.0 2008.9 901.4 2009.2 898.8 2009.4 896.4 2009.7 894.4 2010.3 891.8 2010.9 889.7 2011.5 888.4 2012.7 887.4 2014.0 887.7 2015.1 888.9 2016.1 889.8 2017.1 888.5 2018.1 886.2 2018.8 883.9 2019.6 881.8 2020.4 880.1 2021.3 878.9 2022.2 878.3 2023.1 878.0 2024.0 878.0 2024.9 878.4 2025.7 879.3 2026.4 880.5 2027.1 882.4 2027.7 884.6 2028.2 886.5 2028.7 888.3 2029.1 890.5 2029.5 892.9 2029.8 894.8 2030.1 897.1 2030.3 899.1 2030.5 901.5 2030.7 903.6 2031.0 905.9 2031.2 908.4 2031.4 910.7 2031.6 913.5 2031.8 915.9 2032.0 918.2 2032.2 920.6 2032.4 923.2 2032.7 925.7 2032.9 928.0 2033.1 930.4 2033.3 933.1 2033.6 935.4 2033.8 938.0 2034.1 940.2 2034.4 942.8 2034.8 944.9 2035.2 946.7 2035.6 948.7 2036.5 951.5 2037.4 953.2 2038.5 953.7 2039.4 953.2 2040.0 951.5 2040.5 949.2 2041.0 946.4 2041.2 944.6 2041.4 942.2 2041.6 940.3 2041.8 937.9 2042.0 935.7 2042.2 933.2 2042.5 930.8 2042.7 928.2 2043.0 925.7 2043.2 923.4 2043.5 921.2 2043.8 918.7 2044.1 916.5 2044.4 914.6 2044.8 912.8 2045.3 910.5 2046.0 908.6 2046.6 907.3 2047.6 906.1 2048.6 906.0 2049.6 906.8 2050.6 909.1 2050.9 910.5 2051.2 912.5 2051.5 914.8 2051.8 917.2 2052.2 919.1 2052.5 921.6 2052.9 923.7 2053.3 925.8 2053.8 927.8 2054.7 930.3 2055.7 932.3 2056.9 934.0 2057.8 934.8 2058.8 935.4 2059.8 935.9 2060.7 937.0 2061.4 938.3 2062.0 940.4 2062.5 942.2 2063.0 944.6 2063.3 946.4 2063.6 948.5 2063.9 950.6 2064.2 952.9 2064.5 955.3 2064.8 957.6 2065.1 960.0 2065.4 962.5 2065.7 965.1 2066.0 967.4 2066.3 969.9 2066.6 972.2 2066.9 974.8 2067.2 977.0 2067.5 979.7 2067.8 981.8 2068.2 984.1 2068.5 986.6 2068.9 988.9 2069.2 991.1 2069.5 993.2 2069.8 995.7 2070.2 997.7 2070.5 999.9 2070.8 1001.9 2071.1 1004.3 2071.5 1006.5 2071.8 1008.9 2072.1 1011.3 2072.5 1013.7 2072.8 1016.1 2073.1 1018.5 2073.5 1021.0 2073.8 1023.2 2074.2 1025.7 2074.5 1028.2 2074.8 1030.3 2075.1 1032.9 2075.4 1035.3 2075.7 1037.8 2076.0 1040.3 2076.3 1042.7 2076.6 1045.2 2076.9 1047.2 2077.3 1049.9 2077.8 1051.9 2078.2 1054.1 2078.6 1055.6 2079.2 1058.3 2079.7 1060.3 2080.4 1062.3 2081.1 1060.5 2081.8 1058.7 2082.6 1055.7 2082.9 1054.0 2083.3 1052.0 2083.7 1049.6 2084.0 1047.1 2084.2 1045.2 2084.5 1042.8 2084.7 1040.4 2084.9 1038.2 2085.1 1035.8 2085.4 1033.4 2085.7 1031.1 2086.0 1028.7 2086.3 1026.6 2086.6 1024.2 2086.9 1021.9 2087.2 1019.6 2087.5 1017.3 2087.9 1015.1 2088.3 1012.8 2088.7 1010.5 2089.1 1008.2 2089.6 1006.0 2090.1 1003.8 2090.6 1001.3 2091.1 999.3 2091.6 997.0 2092.2 994.6 2092.7 992.3 2093.1 990.1 2093.4 987.7 2093.6 985.4 2093.8 983.2 2094.0 980.9 2094.3 978.6 2094.7 975.9 2095.2 973.6 2095.8 971.0 2096.4 968.8 2096.9 966.4 2097.5 964.4 2098.1 962.5 2098.8 961.0 2099.8 959.6 2101.0 958.5 2102.1 957.4 2103.1 956.1 2104.0 954.8 2104.9 953.3 2105.5 951.2 2106.0 949.4 2106.6 947.0 2107.0 944.5 2107.4 942.4 2107.8 939.8 2108.1 937.4 2108.4 934.6 2108.7 932.9 2108.9 930.5 2109.2 928.5 2109.4 926.0 2109.6 924.0 2109.9 921.8 2110.1 919.4 2110.3 917.3 2110.6 915.2 2110.8 912.9 2111.0 910.7 2111.2 908.4 2111.4 906.0 2111.6 903.5 2111.8 901.4 2112.0 899.1 2112.2 896.6 2112.5 894.1 2112.7 891.7 2113.0 889.2 2113.2 886.7 2113.5 883.9 2113.8 881.4 2114.1 879.2 2114.7 876.7 2115.5 875.1 2116.4 874.8 2117.4 874.5 2118.4 874.3 2119.5 874.1 2120.5 873.6 2121.7 872.3 2122.9 871.3 2123.8 871.5 2124.6 872.1 2125.5 873.1 2126.6 875.3 2127.6 878.1 2128.3 879.8 2129.1 882.0 2129.7 884.4 2130.1 886.2 2130.5 888.0 2130.8 890.0 2131.1 892.3 2131.4 894.3 2131.7 897.0 2132.0 899.7 2132.3 901.9 2132.5 904.4 2132.7 907.1 2133.0 909.6 2133.3 911.8 2133.6 914.3 2133.9 917.1 2134.3 919.5 2134.7 921.9 2135.0 924.4 2135.4 926.9 2135.8 929.4 2136.1 931.7 2136.3 933.9 2136.6 936.4 2136.8 938.7 2137.0 941.0 2137.2 943.2 2137.5 945.4 2137.7 947.7 2138.0 949.8 2138.3 952.4 2138.5 954.5 2138.7 956.8 2139.0 959.1 2139.2 961.3 2139.4 963.7 2139.6 965.9 2139.9 968.1 2140.1 970.5 2140.3 972.6 2140.6 974.9 2140.8 977.2 2141.0 979.5 2141.2 981.9 2141.4 984.0 2141.6 986.2 2141.8 988.6 2142.0 990.8 2142.2 993.1 2142.4 995.3 2142.6 997.8 2142.8 999.8 2142.9 1001.9 2143.1 1003.7 2143.2 1005.6 2143.4 1008.2 2143.6 1011.3 2143.7 1013.2 2143.9 1015.3 2144.0 1017.5 2144.2 1020.2 2144.3 1022.6 2144.5 1025.2 2144.7 1027.9 2144.8 1030.7 2145.0 1032.9 2145.1 1035.1 2145.2 1037.2 2145.3 1040.2 2145.4 1042.4 2145.4 1044.4 2145.5 1046.5 2145.5 1048.7 2145.6 1051.2 2145.7 1053.4 2145.8 1055.5 2145.9 1057.8 2146.0 1060.3 2146.1 1062.8 2146.2 1065.2 2146.3 1067.8 2146.4 1070.0 2146.5 1072.6 2146.5 1074.9 2146.6 1077.1 2146.7 1079.8 2146.8 1081.9 2146.9 1084.3 2146.9 1086.9 2147.0 1089.2 2147.1 1091.6 2147.2 1093.8 2147.2 1096.3 2147.3 1098.4 2147.4 1101.0 2147.5 1103.4 2147.6 1105.6 2147.6 1107.9 2147.7 1110.4 2147.8 1112.9 2147.9 1115.2 2148.0 1117.6 2148.0 1119.8 2148.1 1122.2 2148.2 1124.4 2148.3 1126.9 2148.3 1129.4 2148.4 1131.5 2148.5 1133.9 2148.6 1136.3 2148.7 1138.6 2148.7 1141.1 2148.8 1143.4 2148.9 1145.7 2149.0 1148.2 2149.1 1150.6 2149.1 1153.0 2149.2 1155.4 2149.3 1157.7 2149.4 1160.2 2149.4 1162.3 2149.5 1164.7 2149.6 1167.0 2149.7 1169.4 2149.8 1171.9 2149.8 1174.3 2149.9 1176.6 2150.0 1178.8 2150.1 1181.2 2150.2 1183.7 2150.2 1186.0 2150.3 1188.5 2150.4 1190.9 2150.5 1193.1 2150.5 1195.5 2150.6 1198.0 2150.7 1200.2 2150.8 1202.5 2150.9 1205.1 2151.0 1207.5 2151.1 1209.5 2151.2 1212.1 2151.3 1214.4 2151.4 1216.6 2151.5 1219.0 2151.6 1221.4 2151.6 1223.9 2151.7 1226.1 2151.8 1228.4 2151.8 1230.9 2151.9 1233.4 2151.9 1235.7 2152.0 1238.1 2152.1 1240.4 2152.1 1242.7 2152.2 1244.9 2152.3 1247.2 2152.3 1249.2 2152.4 1251.4 2152.5 1253.7 2152.6 1255.9 2152.6 1258.4 2152.7 1261.1 2152.8 1264.0 2152.9 1266.1 2153.0 1268.4 2153.1 1270.7 2153.2 1273.0 2153.3 1275.6 2153.4 1278.1 2153.4 1280.7 2153.5 1283.5 2153.6 1285.9 2153.7 1288.8 2153.8 1291.3 2153.9 1293.8 2154.0 1296.0 2154.1 1298.4 2154.2 1301.1 2154.3 1303.4 2154.4 1305.8 2154.5 1308.3 2154.6 1310.5 2154.7 1313.0 2154.8 1315.1 2154.9 1317.6 2155.0 1319.7 2155.1 1322.0 2155.2 1324.5 2155.2 1326.7 2155.3 1329.1 2155.4 1331.5 2155.5 1334.0 2155.6 1336.2 2155.7 1338.5 2155.8 1340.8 2155.8 1343.3 2155.9 1345.6 2156.0 1348.0 2156.1 1350.4 2156.2 1352.7 2156.2 1355.0 2156.3 1357.5 2156.4 1359.8 2156.5 1362.2 2156.6 1364.7 2156.7 1366.9 2156.7 1369.3 2156.8 1371.5 2156.9 1374.1 2157.0 1376.3 2157.1 1378.8 2157.2 1381.2 2157.2 1383.4 2157.3 1386.0 2157.4 1388.2 2157.5 1390.5 2157.6 1392.9 2157.6 1395.4 2157.7 1397.7 2157.8 1400.0 2157.9 1402.3 2158.0 1404.9 2158.1 1407.1 2158.1 1409.4 2158.2 1411.7 2158.3 1414.1 2158.4 1416.7 2158.5 1419.0 2158.6 1421.4 2158.6 1423.8 2158.7 1426.1 2158.8 1428.5 2158.9 1430.8 2159.0 1433.2 2159.0 1435.6 2159.1 1437.7 2159.2 1440.3 2159.3 1442.5 2159.4 1444.9 2159.5 1447.6 2159.6 1449.8 2159.7 1452.4 2159.8 1454.8 2159.9 1457.4 2160.0 1459.7 2160.1 1462.1 2160.2 1464.4 2160.3 1466.5 2160.4 1468.4 2160.5 1471.4 2160.6 1473.8 2160.7 1476.7 2160.9 1479.1 2161.0 1481.3 2161.1 1483.6 2161.2 1485.9 2161.4 1488.0 2161.5 1490.0 2161.7 1492.6 2161.9 1495.0 2162.1 1497.4 2162.2 1499.3 2162.4 1501.3 2162.6 1502.7 2163.2 1505.5 2163.8 1505.9 2164.0 1504.4 2164.2 1502.0 2164.5 1498.4 2164.6 1496.6 2164.7 1494.6 2164.8 1492.5 2164.9 1490.1 2165.0 1487.8 2165.1 1485.5 2165.2 1482.7 2165.3 1480.7 2165.4 1478.5 2165.4 1476.2 2165.5 1473.7 2165.6 1471.2 2165.7 1468.7 2165.8 1466.2 2165.9 1463.9 2166.0 1461.5 2166.1 1459.3 2166.2 1456.7 2166.3 1454.5 2166.5 1452.2 2166.6 1449.6 2166.7 1447.4 2166.8 1445.0 2166.9 1442.7 2167.0 1440.3 2167.1 1437.8 2167.2 1435.4 2167.4 1433.1 2167.5 1430.8 2167.6 1428.2 2167.7 1426.1 2167.8 1423.7 2167.9 1421.3 2168.0 1419.0 2168.1 1416.5 2168.2 1414.1 2168.3 1411.9 2168.4 1409.4 2168.6 1407.1 2168.7 1404.6 2168.8 1402.2 2168.9 1400.0 2169.0 1397.7 2169.1 1395.4 2169.2 1393.0 2169.4 1390.5 2169.5 1388.2 2169.6 1385.8 2169.8 1383.5 2169.9 1381.3 2170.0 1378.6 2170.1 1376.4 2170.3 1374.1 2170.4 1371.7 2170.5 1369.3 2170.6 1367.0 2170.8 1364.7 2170.9 1362.3 2171.0 1359.8 2171.1 1357.5 2171.3 1355.3 2171.4 1352.8 2171.6 1350.3 2171.7 1348.1 2171.8 1345.5 2172.0 1343.2 2172.1 1340.9 2172.3 1338.5 2172.4 1336.3 2172.6 1333.9 2172.7 1331.4 2172.8 1329.2 2172.9 1326.8 2173.1 1324.4 2173.2 1322.0 2173.3 1319.6 2173.4 1317.2 2173.6 1314.9 2173.7 1312.7 2173.8 1310.3 2173.9 1307.8 2174.1 1305.5 2174.2 1303.4 2174.3 1301.2 2174.5 1298.8 2174.6 1296.3 2174.7 1293.9 2174.8 1291.3 2174.9 1289.1 2175.0 1286.6 2175.1 1284.2 2175.2 1281.6 2175.3 1279.0 2175.4 1276.2 2175.5 1273.8 2175.5 1271.1 2175.6 1268.6 2175.7 1266.3 2175.8 1263.9 2175.9 1261.3 2176.0 1258.9 2176.1 1256.5 2176.2 1254.1 2176.4 1252.0 2176.5 1249.7 2176.6 1247.4 2176.7 1245.1 2176.8 1242.7 2176.9 1240.6 2177.1 1237.9 2177.2 1235.6 2177.3 1233.2 2177.4 1231.1 2177.6 1228.6 2177.7 1226.2 2177.8 1223.8 2177.9 1221.6 2178.1 1219.0 2178.2 1216.9 2178.3 1214.5 2178.4 1212.0 2178.6 1209.6 2178.7 1207.3 2178.8 1204.9 2178.9 1202.5 2179.1 1200.3 2179.2 1197.8 2179.4 1195.4 2179.5 1193.2 2179.6 1190.7 2179.8 1188.4 2179.9 1186.1 2180.1 1183.7 2180.2 1181.3 2180.4 1179.1 2180.5 1176.7 2180.6 1174.3 2180.7 1171.8 2180.9 1169.5 2181.0 1167.2 2181.1 1164.7 2181.2 1162.5 2181.4 1160.2 2181.5 1157.7 2181.6 1155.3 2181.8 1152.9 2182.0 1150.6 2182.1 1148.1 2182.3 1145.9 2182.5 1143.5 2182.6 1141.3 2182.8 1138.7 2182.9 1136.4 2183.0 1133.9 2183.2 1131.6 2183.3 1129.4 2183.4 1126.9 2183.5 1124.6 2183.6 1122.1 2183.7 1119.8 2183.8 1117.6 2183.9 1115.0 2184.0 1112.8 2184.1 1110.1 2184.3 1107.8 2184.4 1105.4 2184.5 1102.9 2184.7 1100.4 2184.8 1098.1 2184.9 1095.9 2185.0 1093.9 2185.2 1091.1 2185.4 1088.6 2185.5 1086.2 2185.7 1084.2 2185.9 1081.9 2186.0 1079.7 2186.2 1077.4 2186.4 1074.7 2186.6 1072.5 2186.8 1069.9 2187.0 1067.7 2187.2 1065.6 2187.4 1062.9 2187.7 1060.5 2188.0 1058.2 2188.3 1056.1 2188.6 1054.0 2189.0 1051.8 2189.4 1050.0 2189.9 1047.1 2190.1 1045.1 2190.3 1043.0 2190.5 1040.4 2190.7 1037.8 2190.9 1035.4 2191.2 1033.1 2191.4 1031.1 2191.9 1028.6 2192.3 1026.4 2192.8 1024.6 2193.3 1022.6 2193.9 1020.1 2194.5 1017.4 2195.2 1015.5 2196.1 1014.1 2197.0 1013.1 2197.8 1012.8 2198.9 1013.6 2199.9 1015.5 2200.9 1018.1 2201.8 1020.5 2202.6 1021.3 2203.5 1021.2 2204.5 1019.4 2205.6 1016.8 2206.6 1015.0 2207.7 1013.9 2208.6 1014.1 2209.6 1014.4 2210.6 1014.7 2211.7 1014.8 2212.7 1014.0 2213.4 1012.8 2214.0 1010.8 2214.5 1008.4 2214.8 1006.5 2215.1 1004.4 2215.3 1002.0 2215.5 1000.0 2215.8 997.9 2216.2 995.5 2216.5 993.5 2217.0 991.5 2217.6 988.8 2218.3 986.7 2219.1 984.2 2220.0 982.3 2221.0 980.4 2221.9 978.6 2222.7 977.0 2223.4 975.1 2224.0 973.0 2224.4 971.2 2224.8 968.8 2225.1 966.6 2225.5 964.5 2225.8 962.2 2226.2 960.3 2226.5 957.9 2226.9 955.9 2227.3 953.4 2227.8 951.1 2228.3 949.0 2229.3 946.3 2230.4 943.8 2231.5 941.4 2232.6 939.0 2233.7 936.1 2235.0 934.1 2236.0 933.5 2237.1 933.1 2238.2 933.2 2239.4 933.4 2240.6 934.0 2241.8 934.5 2242.9 936.1 2243.9 937.6 2244.9 938.3 2245.8 936.7 2246.6 934.1 2247.4 931.7 2248.4 930.4 2249.3 929.7 2250.3 929.9 2251.2 930.9 2252.0 933.0 2252.8 934.5 2254.0 936.7 2255.2 938.1 2256.2 938.5 2257.1 938.1 2258.1 937.4 2259.1 936.5 2260.0 935.1 2260.9 933.2 2261.7 931.2 2262.4 928.7 2263.0 926.2 2263.5 924.1 2263.8 922.0 2264.2 919.8 2264.5 917.6 2264.8 915.2 2265.1 912.6 2265.3 910.2 2265.6 907.8 2265.9 905.2 2266.1 902.6 2266.3 900.4 2266.6 897.8 2266.9 895.3 2267.3 892.7 2267.6 890.4 2268.0 888.0 2268.4 885.6 2268.9 883.4 2269.3 881.4 2269.9 879.4 2270.6 877.0 2271.4 874.9 2272.3 873.0 2273.1 871.0 2273.9 869.2 2274.7 867.3 2275.5 865.4 2276.4 863.5 2277.2 861.5 2278.2 860.2 2279.2 859.3 2280.1 857.9 2280.8 856.3 2281.5 854.2 2282.2 852.3 2283.3 850.8 2284.3 850.4 2285.4 851.2 2286.5 851.8 2287.6 850.2 2288.6 848.2 2289.3 846.6 2290.0 845.9 2291.1 848.2 2292.3 851.4 2293.1 852.8 2294.1 853.6 2295.0 853.6 2296.1 850.8 2297.3 848.3 2298.4 847.7 2299.4 847.8 2300.4 849.6 2301.4 850.6 2302.4 851.4 2303.5 850.4 2304.5 850.0 2305.5 846.8 2306.5 845.6 2307.5 842.6 2308.5 842.5 2309.6 843.3 2310.6 844.2 2311.6 844.0 2312.6 845.1 2313.6 846.1 2314.6 846.0 2315.5 846.9 2316.4 846.4 2317.0 844.2 2317.6 840.8 2318.2 840.1 2318.6 842.2 2319.1 844.8 2319.5 847.4 2320.0 850.4 2320.5 851.7 2320.9 850.6 2321.4 848.8 2321.9 846.0 2322.4 842.4 2322.8 840.6 2323.6 838.9 2324.3 836.0 2324.6 834.0 2325.0 832.6 2325.4 829.6 2325.7 828.2 2326.1 825.8 2327.1 821.9 2328.1 821.0 2329.3 821.2 2330.4 824.6 2330.7 826.1 2331.0 828.2 2331.3 829.6 2331.6 831.9 2331.9 835.2 2332.2 837.1 2332.5 840.4 2332.8 843.2 2333.1 845.7 2333.4 847.0 2333.8 846.4 2334.3 842.5 2334.8 838.8 2335.3 836.6 2335.7 834.4 2336.1 835.7 2336.4 837.6 2336.7 840.7 2337.0 842.9 2337.2 847.1 2337.3 849.0 2337.4 852.1 2337.5 854.2 2337.5 857.8 2337.6 860.1 2337.6 863.4 2337.7 866.6 2337.8 867.9 2337.9 869.5 2338.0 871.2 2338.3 870.6 2338.6 867.8 2339.0 864.8 2339.5 861.4 2339.9 858.2 2340.3 856.6 2341.0 853.7 2341.8 852.4 2342.6 851.1 2343.7 851.1 2344.9 853.0 2345.3 855.3 2345.8 857.6 2346.2 859.8 2346.7 863.1 2347.1 865.2 2347.9 868.3 2348.7 869.9 2349.4 870.8 2350.2 871.0 2351.0 867.8 2351.7 865.1 2352.3 862.7 2352.9 860.7 2353.5 859.0 2354.0 857.3 2354.4 858.9 2354.8 861.3 2355.2 864.6 2355.5 866.9 2355.9 868.7 2356.4 870.8 2356.8 873.4 2357.0 873.9" stroke="#000"/>
<path d="M310.45 1760 L310.45 494.2 L314.3 494.2 315.0 494.5 316.0 494.0 317.1 491.7 318.1 490.7 319.0 491.5 320.0 490.7 321.0 492.1 321.9 491.7 322.8 491.8 323.8 492.4 324.7 493.6 325.7 492.5 326.8 494.1 328.0 493.8 329.3 496.7 330.5 493.7 331.7 495.3 332.9 491.1 334.0 491.6 335.2 489.9 336.5 491.3 337.7 494.9 338.9 494.3 340.0 495.7 341.2 497.8 342.3 494.5 343.4 492.0 344.5 495.7 345.5 496.9 346.7 494.9 347.8 495.6 349.0 493.9 350.2 493.5 351.4 493.7 352.6 491.5 353.8 492.5 355.0 489.6 356.2 489.4 357.4 490.8 358.6 488.7 359.8 488.2 361.0 488.9 362.2 489.4 363.5 490.7 364.7 491.2 365.7 495.1 366.8 497.7 367.7 499.4 368.6 498.6 369.3 496.0 369.9 493.1 370.6 491.5 371.4 490.1 372.3 489.2 373.2 492.1 374.2 495.1 375.2 497.2 376.4 498.1 377.6 496.0 378.9 493.2 380.0 495.4 381.0 494.8 382.0 496.4 382.9 496.7 383.8 497.8 384.7 496.9 385.6 496.6 386.5 492.5 387.6 492.5 388.7 490.4 389.9 491.3 391.1 488.4 392.3 488.9 393.3 489.4 394.5 492.1 395.5 492.9 396.3 496.9 397.1 497.1 397.8 495.9 398.3 493.4 398.8 491.9 399.4 489.1 400.0 491.9 400.7 491.9 401.4 497.6 402.1 498.4 402.9 498.9 403.6 500.0 404.4 498.5 405.1 492.7 405.9 491.0 406.7 490.8 407.6 487.9 408.6 486.5 409.5 485.3 410.5 485.7 411.4 489.3 412.3 493.2 413.3 496.1 414.3 496.2 415.5 495.2 416.8 496.2 418.1 497.2 419.0 496.4 419.6 493.9 419.7 489.9 419.9 488.4 420.4 486.6 421.3 486.5 422.4 485.3 423.6 488.1 424.8 489.0 426.0 488.5 427.2 491.9 428.5 496.4 429.5 495.4 430.4 496.3 431.1 492.0 431.7 489.4 432.4 487.4 433.3 484.9 434.2 485.5 435.2 486.8 435.9 489.9 436.6 492.4 437.4 493.1 438.2 497.9 439.0 497.8 440.2 497.5 441.5 497.4 442.7 498.2 443.8 496.4 444.8 497.5 445.6 500.0 446.7 500.6 447.7 498.9 448.9 495.9 450.2 494.5 451.4 494.3 452.6 493.6 453.8 493.2 455.0 492.7 456.2 492.9 457.4 493.6 458.7 492.3 459.9 489.8 461.0 492.1 462.1 494.7 463.0 497.0 463.8 498.5 464.4 497.1 464.9 493.2 465.4 491.2 466.1 488.2 467.1 486.9 468.2 488.2 469.4 489.1 470.5 492.9 471.2 494.3 471.8 497.0 472.5 500.5 473.1 501.4 473.7 503.9 474.4 503.6 475.1 500.1 475.8 496.5 476.5 494.1 477.1 491.8 478.1 491.5 479.0 489.4 480.0 489.7 480.9 491.5 481.8 494.6 482.8 496.6 483.8 497.7 484.7 499.6 485.7 498.5 486.6 497.7 487.6 499.0 488.7 497.4 489.9 494.2 491.2 493.6 492.4 491.3 493.6 491.0 494.8 492.3 496.0 495.6 497.1 493.6 498.4 495.9 499.6 497.0 500.8 497.8 501.9 498.8 502.9 496.9 503.8 497.0 504.7 493.6 505.7 493.6 506.8 493.6 508.0 498.0 509.2 501.8 510.5 504.0 511.6 501.1 512.7 499.5 513.9 498.0 515.1 495.5 516.2 492.0 517.4 493.2 518.6 495.3 519.8 495.7 521.0 497.7 522.1 497.8 523.2 498.4 524.4 496.7 525.7 497.4 526.7 497.1 527.9 499.6 529.1 499.7 530.3 501.6 531.4 502.1 532.4 502.2 533.5 500.6 534.4 498.6 535.3 497.2 536.2 494.4 537.2 492.5 538.1 494.1 539.2 492.0 540.4 494.8 541.3 495.0 542.4 496.5 543.5 500.6 544.6 503.1 545.7 503.1 546.7 503.5 548.0 504.5 549.1 502.9 550.3 499.6 551.4 499.1 552.6 498.9 553.9 501.9 555.1 503.1 556.2 504.4 557.2 503.0 558.0 500.2 558.9 497.4 560.0 497.2 561.1 495.1 562.3 495.9 563.5 497.2 564.7 501.0 565.7 501.0 566.4 501.5 566.9 506.8 567.4 509.6 567.9 511.6 568.6 511.0 569.5 511.5 570.7 508.1 571.9 505.0 573.2 505.2 574.3 503.6 575.5 501.2 576.7 503.9 577.9 501.8 579.0 503.2 580.2 502.0 581.4 502.1 582.6 501.7 583.8 503.6 584.9 502.5 586.1 502.8 587.3 503.5 588.4 504.8 589.5 507.5 590.8 507.9 592.0 507.7 593.2 511.0 594.3 511.6 595.3 511.9 596.2 512.7 597.1 513.2 598.1 513.4 599.2 511.2 600.4 509.8 601.6 507.5 602.9 507.5 604.0 507.9 605.2 510.5 606.4 513.2 607.6 515.0 608.7 512.9 609.8 513.5 610.9 510.1 612.1 509.6 613.3 508.3 614.4 509.4 615.5 509.1 616.7 509.3 617.8 510.4 618.9 512.2 620.0 513.6 621.2 514.7 622.3 513.1 623.4 513.5 624.5 514.3 625.7 514.8 626.8 515.2 627.9 515.7 629.0 517.0 630.2 517.0 631.3 519.2 632.4 518.9 633.6 519.4 634.8 518.2 636.0 516.1 637.1 515.5 638.1 511.7 639.2 512.5 640.2 515.6 641.0 514.8 641.9 514.2 643.0 515.2 644.1 512.6 645.1 512.5 646.2 513.3 647.3 515.5 648.6 516.7 649.7 518.5 650.9 519.2 652.1 518.7 653.3 518.0 654.5 519.7 655.7 519.6 656.9 521.0 658.1 523.7 659.3 521.6 660.5 519.8 661.7 515.6 662.9 515.3 664.1 516.8 665.3 519.3 666.5 521.5 667.6 522.4 668.6 521.0 669.5 520.6 670.4 521.4 671.4 521.6 672.6 520.3 673.8 520.1 675.0 522.2 676.2 522.4 677.4 521.8 678.5 521.0 679.7 521.3 681.0 522.3 682.0 521.6 683.1 524.1 684.3 526.8 685.4 527.3 686.7 526.5 687.7 526.9 688.8 525.4 689.9 526.7 691.1 525.6 692.2 523.7 693.3 524.9 694.5 525.6 695.6 526.5 696.7 527.1 697.8 528.2 698.9 529.6 700.0 532.6 701.2 531.5 702.4 532.8 703.6 533.4 704.7 533.3 705.7 534.9 706.8 536.2 707.7 538.8 708.6 540.8 709.5 541.5 710.5 542.0 711.4 537.5 712.4 535.1 713.3 534.7 714.2 534.8 715.1 537.1 716.1 539.6 717.1 539.3 718.2 541.2 719.3 539.1 720.5 538.9 721.7 540.1 722.9 540.8 724.1 541.3 725.4 541.9 726.5 544.8 727.6 546.0 728.6 548.7 729.6 547.8 730.5 548.1 731.4 549.3 732.4 548.4 733.3 546.7 734.3 544.8 735.2 545.7 736.2 545.3 737.2 548.5 738.2 549.1 739.0 550.8 740.0 551.2 740.9 552.1 741.9 551.5 742.8 548.9 743.8 547.8 744.8 546.5 745.7 544.8 746.7 545.4 747.6 546.4 748.6 547.2 749.4 545.7 750.4 544.5 751.3 542.6 752.4 544.3 753.5 544.1 754.7 543.7 755.9 545.7 757.1 545.4 758.4 542.3 759.6 542.3 760.8 539.4 761.9 538.2 762.9 538.5 763.7 540.2 764.7 540.5 765.7 540.7 766.8 539.9 768.0 538.7 769.3 536.3 770.4 534.4 771.4 535.1 772.5 534.3 773.3 535.9 774.3 536.4 775.4 535.7 776.7 531.3 777.9 529.0 779.0 528.9 780.0 528.4 780.8 528.8 781.9 528.6 782.9 529.2 784.0 530.2 785.2 533.5 786.4 534.2 787.6 533.8 788.8 533.3 790.0 529.9 791.3 528.1 792.4 526.7 793.3 523.3 794.5 523.5 795.3 522.5 796.2 524.6 797.1 526.1 798.0 527.6 799.0 527.8 800.1 525.9 801.4 525.2 802.6 522.9 803.8 521.3 804.8 519.3 805.7 520.0 806.6 518.3 807.6 518.2 808.7 519.8 809.9 521.7 811.2 522.7 812.4 523.5 813.6 523.8 814.8 521.5 816.0 521.2 817.1 518.0 818.4 518.6 819.6 517.0 820.8 516.3 821.9 516.9 822.9 516.4 823.7 518.9 824.8 520.6 825.8 519.7 827.0 517.7 828.3 516.4 829.5 514.5 830.5 514.1 831.6 514.5 832.5 515.9 833.3 516.7 834.3 514.7 835.2 512.3 836.2 511.0 837.1 514.4 838.0 515.4 839.0 518.9 840.0 518.9 840.8 519.5 841.5 516.3 842.3 512.8 843.0 511.6 843.8 510.3 844.7 510.5 845.7 510.0 846.6 511.7 847.6 513.1 848.7 512.4 849.9 512.6 851.1 512.5 852.4 512.5 853.4 512.9 854.6 513.2 855.7 512.8 856.9 514.0 858.1 513.2 859.2 512.0 860.4 510.7 861.5 510.6 862.7 508.9 863.8 507.4 864.8 507.6 865.9 507.7 866.8 508.5 867.7 510.1 868.6 510.9 869.5 511.5 870.4 513.0 871.4 513.2 872.4 512.0 873.5 512.4 874.7 510.1 876.0 510.0 877.1 507.4 878.2 507.1 879.3 507.4 880.3 506.6 881.3 507.0 882.4 507.9 883.5 510.5 884.7 514.6 885.7 514.5 886.7 514.3 887.7 513.1 888.6 512.0 889.5 510.8 890.5 511.4 891.4 511.8 892.3 512.0 893.3 513.5 894.5 512.8 895.7 512.7 896.9 514.3 898.1 514.0 899.1 512.8 900.1 511.3 901.0 509.7 901.9 509.1 902.8 509.1 903.8 510.1 904.7 511.6 905.7 512.6 906.9 512.1 908.2 510.3 909.4 509.4 910.5 508.5 911.6 509.5 912.5 510.6 913.3 511.6 914.3 510.5 915.2 508.7 916.2 507.8 917.1 507.6 918.0 509.1 919.0 510.2 920.0 510.3 921.0 510.1 921.9 509.6 922.9 508.4 923.8 508.8 924.8 508.8 925.7 510.7 926.7 511.2 927.6 511.5 928.6 511.1 929.5 510.3 930.5 509.3 931.4 510.2 932.4 510.7 933.3 511.4 934.3 512.4 935.2 512.3 936.2 512.5 937.1 511.2 938.1 510.6 939.0 510.6 940.0 510.4 941.0 511.3 941.9 512.9 942.9 513.3 943.8 514.3 944.8 513.5 945.8 513.7 946.7 515.2 947.7 515.7 948.6 516.9 949.5 517.8 950.5 518.0 951.4 519.4 952.4 520.0 953.3 522.4 954.3 524.1 955.2 526.4 956.2 528.4 957.1 529.4 958.1 531.4 959.2 532.0 960.3 533.0 961.3 534.9 962.0 537.0 962.6 540.2 963.2 542.6 963.8 544.6 964.8 546.3 965.7 547.5 966.7 550.4 967.3 551.9 967.9 554.5 968.4 557.4 969.0 560.4 969.5 562.0 970.0 564.2 970.4 567.4 970.9 569.0 971.2 571.9 971.5 573.5 971.8 575.9 972.1 578.2 972.4 580.9 972.6 583.5 972.9 585.6 973.2 587.5 973.4 589.3 973.7 591.7 973.9 594.1 974.1 596.8 974.3 599.1 974.5 600.3 974.8 602.9 975.0 605.8 975.2 607.3 975.5 609.3 975.7 611.6 976.0 614.4 976.3 616.0 976.6 618.7 976.9 620.3 977.1 623.0 977.4 624.7 977.7 627.4 978.0 629.7 978.2 632.1 978.5 633.8 978.8 636.5 979.0 638.0 979.4 640.9 979.7 643.2 980.0 645.5 980.3 646.8 980.6 649.1 981.0 651.6 981.3 654.3 981.7 655.9 982.1 658.7 982.5 660.6 982.9 662.3 983.2 664.6 983.6 666.8 984.0 669.2 984.4 672.0 984.8 673.5 985.4 676.3 986.0 678.4 986.7 679.5 987.6 681.3 988.6 681.7 989.2 681.1 990.0 678.8 990.9 677.6 991.9 674.5 992.8 672.3 993.6 670.2 994.4 668.0 995.1 665.9 995.7 663.4 996.3 661.6 997.0 660.7 998.2 659.3 999.5 659.8 1000.8 658.6 1002.0 657.4 1003.1 655.7 1004.2 654.4 1005.1 652.2 1006.0 650.3 1006.8 648.1 1007.3 646.1 1007.8 644.3 1008.3 642.3 1008.7 638.9 1009.2 637.1 1009.6 634.8 1010.0 632.4 1010.4 630.2 1010.9 627.7 1011.3 625.7 1011.7 623.2 1012.1 620.8 1012.6 618.8 1013.0 617.6 1013.4 615.5 1013.8 613.9 1014.4 611.2 1014.9 608.8 1015.5 606.3 1016.6 603.6 1017.8 602.7 1018.9 601.5 1020.0 601.0 1021.2 600.3 1022.4 601.3 1023.6 601.9 1024.6 602.7 1025.3 604.7 1025.7 607.7 1026.1 610.1 1026.4 611.3 1026.7 613.2 1027.1 616.0 1027.4 617.8 1027.7 620.1 1028.0 622.1 1028.3 624.7 1028.6 627.5 1028.9 630.0 1029.2 632.3 1029.5 634.8 1029.8 637.6 1030.1 639.7 1030.3 642.2 1030.6 645.1 1030.9 647.2 1031.2 650.4 1031.5 652.9 1031.7 655.3 1032.0 658.1 1032.3 659.8 1032.6 662.5 1032.9 665.0 1033.2 667.2 1033.5 670.5 1033.8 672.1 1034.1 675.6 1034.4 677.8 1034.8 680.6 1035.1 682.1 1035.4 685.5 1035.7 688.1 1036.0 690.5 1036.2 692.7 1036.5 695.2 1036.8 697.4 1037.1 700.1 1037.4 702.1 1037.7 704.3 1038.0 706.3 1038.3 708.7 1038.6 710.8 1039.0 713.2 1039.3 715.0 1039.6 716.5 1040.0 719.1 1040.3 720.7 1040.7 722.9 1041.1 724.6 1042.1 727.9 1043.1 728.9 1044.1 728.4 1045.1 726.5 1045.6 725.5 1046.1 723.2 1046.5 721.2 1046.8 719.8 1047.1 717.4 1047.4 715.1 1047.6 713.3 1047.9 710.9 1048.1 708.7 1048.4 706.3 1048.6 704.6 1048.8 701.9 1049.0 700.1 1049.2 697.5 1049.4 695.5 1049.6 693.5 1049.8 691.2 1050.0 687.9 1050.2 686.4 1050.3 683.2 1050.5 681.6 1050.7 679.0 1050.9 675.9 1051.1 673.9 1051.3 671.3 1051.5 668.7 1051.6 666.5 1051.8 663.8 1052.0 661.6 1052.2 659.1 1052.3 656.0 1052.5 654.2 1052.6 651.7 1052.8 649.4 1052.9 646.6 1053.1 644.2 1053.2 641.4 1053.4 639.1 1053.5 637.5 1053.7 634.4 1053.8 633.0 1054.0 630.0 1054.1 628.0 1054.3 626.0 1054.4 623.1 1054.5 621.2 1054.7 619.3 1054.8 616.6 1054.9 614.1 1055.1 611.8 1055.2 610.4 1055.4 607.3 1055.5 605.6 1055.7 603.3 1055.8 600.6 1056.0 598.7 1056.2 596.5 1056.4 593.7 1056.6 591.5 1056.8 590.0 1057.0 586.9 1057.2 584.9 1057.4 582.5 1057.6 580.5 1057.9 578.3 1058.1 576.0 1058.3 573.8 1058.6 571.4 1058.9 568.9 1059.2 567.4 1059.5 565.3 1059.8 563.7 1060.2 561.3 1060.6 559.0 1061.0 557.3 1061.5 555.7 1061.9 553.3 1062.3 551.4 1062.8 548.5 1063.3 546.5 1063.7 544.5 1064.2 542.8 1065.0 539.8 1065.7 538.5 1066.7 536.0 1067.5 534.5 1068.5 533.8 1069.6 533.5 1070.5 533.5 1071.5 534.3 1072.4 535.0 1073.3 537.6 1074.3 539.6 1075.2 541.6 1076.2 544.0 1077.1 545.4 1078.1 546.8 1079.0 548.1 1080.0 550.5 1081.0 551.7 1081.9 551.9 1082.9 551.9 1083.8 551.0 1084.8 549.7 1085.5 547.5 1086.2 546.1 1086.9 543.2 1087.6 541.0 1088.0 539.2 1088.4 537.2 1088.7 534.7 1089.0 532.0 1089.5 530.6 1090.0 528.1 1091.0 526.0 1092.1 524.2 1093.5 522.5 1095.0 519.4 1096.0 519.0 1097.1 517.9 1098.3 518.0 1099.6 516.6 1100.9 516.7 1102.1 516.0 1103.3 514.9 1104.5 515.0 1105.7 514.4 1106.9 513.2 1108.1 513.2 1109.3 512.8 1110.5 513.8 1111.7 513.2 1112.9 513.3 1114.0 514.4 1115.2 515.4 1116.4 514.8 1117.6 516.2 1118.8 516.0 1120.0 517.1 1121.2 517.1 1122.4 517.1 1123.6 516.6 1124.8 515.6 1126.0 516.4 1127.1 514.8 1128.3 515.1 1129.6 515.2 1130.8 513.4 1132.1 512.9 1133.3 512.4 1134.5 511.7 1135.7 510.7 1136.7 510.5 1138.1 511.6 1139.3 512.4 1140.4 512.5 1141.7 513.6 1142.7 513.5 1143.7 512.4 1144.8 511.9 1145.9 509.9 1147.1 508.9 1148.3 508.9 1149.4 507.3 1150.6 506.3 1151.8 505.6 1153.0 506.0 1154.2 505.3 1155.5 503.9 1156.7 504.4 1157.9 503.4 1159.0 504.2 1160.2 503.5 1161.4 504.7 1162.6 505.3 1163.8 505.0 1165.0 505.2 1166.2 504.1 1167.3 504.2 1168.5 504.2 1169.6 502.9 1170.8 502.9 1172.1 502.2 1173.3 502.1 1174.5 501.8 1175.7 501.0 1177.0 501.7 1178.2 501.7 1179.5 501.0 1180.8 501.5 1182.1 500.9 1183.3 501.1 1184.6 500.6 1185.9 500.6 1187.2 500.2 1188.5 500.9 1189.8 500.3 1191.1 500.2 1192.2 500.0 1193.3 499.9 1194.6 499.7 1195.8 500.9 1196.9 501.2 1197.9 501.5 1198.9 502.2 1200.0 501.8 1201.1 502.4 1202.1 502.3 1203.1 501.1 1204.2 500.2 1205.4 501.0 1206.7 500.2 1207.8 499.6 1209.0 499.2 1210.3 499.9 1211.7 499.3 1213.0 500.4 1214.3 500.2 1215.6 499.6 1216.7 499.9 1218.0 499.6 1219.1 500.2 1220.2 501.1 1221.2 502.0 1222.3 501.5 1223.3 502.4 1224.4 501.1 1225.5 500.4 1226.6 500.9 1227.7 499.6 1228.8 499.0 1230.0 498.9 1231.1 499.1 1232.3 498.5 1233.5 498.5 1234.7 499.4 1235.9 499.6 1237.1 499.5 1238.3 498.8 1239.5 499.6 1240.8 498.5 1242.0 498.2 1243.2 498.1 1244.4 496.5 1245.6 496.8 1246.7 496.5 1247.8 497.2 1248.9 497.1 1249.9 497.9 1250.9 498.7 1252.0 499.8 1253.3 499.7 1254.4 500.6 1255.6 500.3 1256.8 499.7 1258.1 498.8 1259.4 499.1 1260.8 498.3 1262.1 498.3 1263.3 498.4 1264.6 497.1 1265.8 498.1 1267.1 498.5 1268.3 498.0 1269.6 498.1 1270.8 497.8 1272.1 499.2 1273.3 498.2 1274.6 497.8 1275.8 497.8 1277.1 498.3 1278.3 498.4 1279.6 498.5 1280.8 497.9 1282.1 496.9 1283.3 498.0 1284.6 497.8 1285.8 497.6 1287.1 497.7 1288.3 497.5 1289.6 497.2 1290.8 497.3 1292.1 496.0 1293.3 497.4 1294.6 495.7 1295.9 496.2 1297.2 496.1 1298.5 495.8 1299.8 495.3 1301.1 495.4 1302.2 495.0 1303.3 495.6 1304.6 495.0 1305.8 496.1 1306.9 497.3 1307.9 497.8 1308.9 497.7 1310.0 498.6 1311.1 499.2 1312.2 498.1 1313.3 497.8 1314.4 496.6 1315.6 497.0 1316.7 496.0 1317.7 496.6 1318.8 496.7 1319.8 497.6 1320.9 497.4 1322.0 498.7 1323.3 499.1 1324.4 499.0 1325.6 498.9 1326.8 497.9 1328.1 497.6 1329.4 498.3 1330.8 498.0 1332.1 497.5 1333.3 497.4 1334.6 496.7 1335.8 497.7 1337.1 497.1 1338.3 498.1 1339.6 497.9 1340.8 498.7 1342.1 498.1 1343.3 498.4 1344.6 498.9 1345.9 498.3 1347.2 497.1 1348.5 498.0 1349.8 496.0 1351.1 496.2 1352.2 496.4 1353.3 496.1 1354.6 496.5 1355.7 497.4 1356.8 496.8 1357.8 498.2 1358.8 498.5 1360.0 499.5 1361.1 499.5 1362.3 500.0 1363.5 500.5 1364.7 500.1 1365.9 500.1 1367.1 500.2 1368.3 499.5 1369.5 500.3 1370.8 499.0 1372.0 498.6 1373.2 498.5 1374.4 497.9 1375.6 497.7 1376.7 497.0 1377.8 496.8 1378.9 496.9 1379.9 497.9 1380.9 498.2 1382.0 497.5 1383.3 498.4 1384.4 498.4 1385.6 497.5 1386.8 497.7 1388.1 496.9 1389.4 496.6 1390.8 495.2 1392.1 495.4 1393.3 495.1 1394.6 494.9 1395.8 495.1 1397.1 495.1 1398.3 496.8 1399.6 496.5 1400.8 497.2 1402.1 497.5 1403.3 498.4 1404.6 498.7 1405.8 499.7 1407.1 498.9 1408.3 499.7 1409.6 500.9 1410.8 501.1 1412.1 500.2 1413.3 500.9 1414.6 501.7 1415.8 501.6 1417.1 500.3 1418.3 500.7 1419.6 499.7 1420.8 499.0 1422.1 500.1 1423.3 498.7 1424.6 500.1 1425.8 499.4 1427.1 500.2 1428.3 499.8 1429.6 500.7 1430.8 500.6 1432.1 499.8 1433.3 499.6 1434.6 499.7 1435.8 500.3 1437.1 499.3 1438.3 499.0 1439.6 499.2 1440.8 498.4 1442.1 498.6 1443.3 498.9 1444.6 498.0 1445.8 498.7 1447.1 497.7 1448.3 497.6 1449.6 497.5 1450.8 498.0 1452.1 496.7 1453.3 497.8 1454.6 496.7 1455.8 498.2 1457.1 497.6 1458.3 498.1 1459.6 497.9 1460.8 498.3 1462.1 498.5 1463.3 497.8 1464.6 498.0 1465.9 499.3 1467.2 498.4 1468.5 498.6 1469.8 498.5 1471.1 499.7 1472.2 499.8 1473.3 498.6 1474.6 499.6 1475.7 498.0 1476.7 498.1 1477.7 497.6 1478.7 496.8 1480.0 496.7 1481.1 497.1 1482.2 497.8 1483.4 497.4 1484.6 497.8 1485.9 499.5 1487.2 498.8 1488.6 498.9 1490.0 500.3 1491.1 500.4 1492.2 499.2 1493.4 499.7 1494.6 500.1 1495.8 499.1 1497.1 499.0 1498.3 498.3 1499.6 498.3 1500.9 499.0 1502.1 498.7 1503.3 499.2 1504.5 498.6 1505.8 498.3 1507.0 498.6 1508.2 498.3 1509.4 498.9 1510.6 499.3 1511.8 498.6 1513.0 499.3 1514.2 500.0 1515.5 499.6 1516.7 499.0 1517.9 499.6 1519.1 498.7 1520.4 498.7 1521.7 499.8 1522.9 499.6 1524.2 499.4 1525.4 499.3 1526.6 499.0 1527.8 499.7 1528.9 499.3 1530.0 499.8 1531.4 499.9 1532.7 499.6 1534.0 500.7 1535.2 500.3 1536.4 501.1 1537.6 501.8 1538.8 502.2 1540.0 501.9 1541.2 501.2 1542.5 501.1 1543.8 501.9 1545.0 500.9 1546.2 500.4 1547.5 500.9 1548.8 500.4 1550.0 500.7 1551.2 499.7 1552.4 500.0 1553.6 500.6 1554.8 499.2 1556.0 499.4 1557.3 499.3 1558.6 498.8 1560.0 498.8 1561.1 499.0 1562.2 499.4 1563.4 498.8 1564.6 499.7 1565.8 499.3 1567.1 499.3 1568.3 500.2 1569.6 500.1 1570.9 499.6 1572.1 499.3 1573.3 499.7 1574.5 499.8 1575.8 499.8 1577.0 499.5 1578.2 498.3 1579.4 498.3 1580.6 499.4 1581.8 498.5 1583.0 498.3 1584.2 497.5 1585.5 498.5 1586.7 498.5 1587.9 497.8 1589.1 497.8 1590.3 497.7 1591.5 498.3 1592.7 498.9 1593.9 499.1 1595.2 498.6 1596.4 499.0 1597.6 499.4 1598.8 500.5 1600.0 500.7 1601.2 500.5 1602.4 499.8 1603.6 499.4 1604.8 500.0 1606.1 499.6 1607.3 499.1 1608.5 499.0 1609.7 499.1 1610.9 498.3 1612.1 497.7 1613.3 498.4 1614.5 498.7 1615.8 497.6 1617.0 498.0 1618.2 498.7 1619.4 499.0 1620.6 498.0 1621.8 499.3 1623.0 498.6 1624.2 498.6 1625.5 498.6 1626.7 499.3 1627.9 499.3 1629.1 498.8 1630.3 499.6 1631.5 498.7 1632.7 499.7 1633.9 499.7 1635.2 498.6 1636.4 498.0 1637.6 498.0 1638.8 498.7 1640.0 498.4 1641.2 499.2 1642.4 498.7 1643.6 498.6 1644.8 498.6 1646.1 500.0 1647.3 499.8 1648.5 499.9 1649.7 499.3 1650.9 499.8 1652.1 500.3 1653.3 500.2 1654.5 499.7 1655.8 499.8 1657.0 500.5 1658.2 499.3 1659.4 500.1 1660.6 500.2 1661.8 499.8 1663.0 499.7 1664.2 500.2 1665.5 499.2 1666.7 499.7 1667.9 499.5 1669.1 499.4 1670.3 498.1 1671.5 498.8 1672.7 498.1 1673.9 497.5 1675.2 498.5 1676.4 497.3 1677.6 497.4 1678.8 497.1 1680.0 496.7 1681.2 497.1 1682.5 497.7 1683.7 497.9 1685.0 498.3 1686.2 497.6 1687.5 498.1 1688.7 499.2 1689.9 499.0 1691.1 499.5 1692.2 499.2 1693.3 499.2 1694.7 498.6 1696.1 499.6 1697.3 499.5 1698.5 498.9 1699.7 497.8 1700.9 498.2 1702.1 498.1 1703.3 497.3 1704.6 497.5 1705.8 498.3 1707.1 497.4 1708.3 498.1 1709.6 497.4 1710.8 497.5 1712.1 497.8 1713.3 498.4 1714.6 499.5 1715.8 499.2 1717.1 499.4 1718.3 499.1 1719.6 500.0 1720.8 499.6 1722.1 499.8 1723.3 500.4 1724.6 500.4 1725.9 501.4 1727.2 501.1 1728.5 501.3 1729.8 500.8 1731.1 501.1 1732.2 500.8 1733.3 501.3 1734.7 502.9 1735.9 503.1 1737.1 503.2 1738.2 504.4 1739.1 505.5 1740.0 505.8 1741.3 505.9 1742.2 505.5 1743.0 505.9 1744.1 507.0 1745.1 509.1 1746.1 510.5 1747.2 511.6 1748.4 512.7 1749.4 514.1 1750.0 515.8 1750.5 517.4 1751.0 519.5 1751.4 521.8 1751.8 523.5 1752.3 525.7 1752.7 527.8 1753.1 530.2 1753.4 532.4 1753.6 534.5 1753.8 536.8 1754.0 538.9 1754.1 541.5 1754.3 543.9 1754.5 546.3 1754.6 548.3 1754.8 550.3 1755.0 552.5 1755.2 554.9 1755.4 557.0 1755.5 559.3 1755.7 561.3 1755.9 563.6 1756.0 565.9 1756.2 567.9 1756.3 570.2 1756.5 572.2 1756.6 574.5 1756.8 576.5 1756.9 578.8 1757.1 580.9 1757.2 583.1 1757.4 585.4 1757.5 587.6 1757.7 589.8 1757.8 592.0 1758.0 594.0 1758.1 596.4 1758.2 598.4 1758.3 600.7 1758.5 602.9 1758.6 604.9 1758.7 607.1 1758.9 609.3 1759.0 611.5 1759.2 613.8 1759.3 616.1 1759.5 618.2 1759.6 620.1 1759.8 622.5 1760.0 624.9 1760.2 627.3 1760.4 629.3 1760.6 631.8 1760.8 633.9 1761.0 636.1 1761.2 638.5 1761.4 641.0 1761.6 643.5 1761.9 645.9 1762.1 648.2 1762.4 650.8 1762.7 653.3 1763.0 655.7 1763.3 658.3 1763.6 660.4 1764.0 662.8 1764.4 665.0 1764.7 667.2 1765.1 669.7 1765.5 671.6 1765.9 674.2 1766.3 676.3 1766.7 679.0 1767.1 680.9 1767.6 683.7 1768.0 686.5 1768.5 689.1 1769.0 690.8 1770.1 692.7 1771.2 693.3 1772.3 693.2 1773.2 691.6 1773.7 689.8 1774.2 687.5 1774.7 684.8 1775.2 682.8 1775.6 680.6 1776.1 678.1 1776.6 675.7 1777.0 673.3 1777.5 670.9 1778.0 668.6 1778.4 666.7 1778.8 664.6 1779.2 662.5 1779.5 660.6 1779.9 659.1 1780.4 656.8 1780.9 655.1 1781.4 653.7 1782.7 652.5 1783.9 651.3 1784.2 649.7 1784.4 647.8 1784.7 645.9 1785.0 643.9 1785.4 641.9 1785.9 640.1 1786.4 638.1 1786.9 636.2 1787.4 634.0 1787.9 631.7 1788.3 629.2 1788.8 627.1 1789.2 624.7 1789.7 622.6 1790.2 620.6 1790.6 618.6 1791.1 616.4 1791.6 614.2 1792.1 612.4 1793.1 610.4 1794.1 608.8 1795.0 607.3 1796.1 606.4 1796.9 606.0 1797.7 605.7 1798.7 605.2 1799.6 604.7 1800.7 604.3 1801.7 604.0 1802.7 604.3 1803.7 604.7 1804.8 605.2 1805.8 606.4 1806.8 607.6 1807.8 608.6 1808.7 609.6 1809.6 610.7 1810.4 611.6 1811.4 613.8 1812.4 616.2 1813.3 617.8 1814.4 618.9 1815.4 620.1 1816.6 621.4 1817.7 622.1 1818.7 622.4 1819.7 622.6 1820.8 622.4 1821.7 621.9 1822.7 621.1 1823.5 620.1 1824.1 618.7 1824.6 616.7 1825.0 614.8 1825.3 613.0 1825.6 611.1 1825.8 609.2 1826.1 607.0 1826.4 605.1 1826.8 602.7 1827.2 600.3 1827.6 598.1 1828.0 595.8 1828.4 593.4 1828.8 591.1 1829.1 588.9 1829.5 586.3 1829.9 583.8 1830.3 581.1 1830.7 579.0 1831.2 576.6 1831.6 574.2 1832.2 572.2 1832.8 569.5 1833.4 567.0 1834.2 565.3 1835.0 564.4 1835.8 564.3 1836.8 564.1 1837.8 563.5 1838.8 562.6 1839.8 562.3 1840.7 562.8 1841.5 564.0 1842.4 565.3 1843.3 565.9 1844.3 566.5 1845.1 567.5 1846.3 569.8 1847.4 572.4 1848.2 573.9 1849.1 575.3 1850.0 576.7 1851.1 577.9 1852.4 578.6 1853.5 579.6 1854.6 580.8 1855.6 582.0 1856.6 583.7 1857.5 585.3 1858.4 587.3 1859.2 589.5 1859.7 591.3 1860.2 593.2 1860.7 595.2 1861.1 597.4 1861.6 599.4 1862.2 601.7 1862.7 604.1 1863.1 606.4 1863.5 608.8 1863.9 611.4 1864.3 613.9 1864.6 616.3 1865.1 618.7 1865.5 620.8 1866.0 623.0 1866.5 625.3 1867.0 627.7 1867.6 630.2 1868.2 632.3 1868.8 634.4 1869.3 636.7 1869.9 639.0 1870.5 641.0 1871.0 643.1 1871.7 645.2 1872.2 647.3 1872.9 648.9 1874.1 650.3 1875.3 651.3 1876.0 653.2 1876.6 655.5 1877.1 657.4 1877.7 659.2 1878.3 661.3 1879.0 662.9 1880.2 664.3 1881.4 665.8 1882.0 667.5 1882.6 669.3 1883.2 671.0 1884.4 673.8 1885.5 675.7 1886.3 676.9 1887.0 677.4 1888.0 676.3 1889.0 674.2 1889.7 672.4 1890.5 670.3 1891.2 668.1 1892.2 665.8 1893.1 663.7 1893.8 661.5 1894.5 659.7 1895.1 657.3 1895.7 655.6 1896.2 653.9 1896.7 651.7 1897.3 649.9 1897.8 647.7 1898.3 645.6 1898.7 643.2 1899.2 640.7 1899.6 638.6 1900.1 636.2 1900.5 634.2 1900.9 632.0 1901.2 629.9 1901.6 627.8 1902.0 626.1 1902.4 624.1 1902.7 622.3 1903.3 620.3 1904.0 618.6 1904.6 616.4 1905.0 614.1 1905.5 612.0 1905.9 609.5 1906.4 607.2 1906.9 604.7 1907.4 602.6 1907.9 600.1 1908.4 597.9 1908.9 596.0 1909.4 594.1 1909.9 592.2 1910.4 590.5 1911.0 588.3 1911.6 586.3 1912.2 584.4 1912.7 582.5 1913.2 580.6 1913.7 578.8 1914.6 577.2 1915.5 576.7 1916.5 578.0 1917.5 580.5 1918.0 582.2 1918.5 583.9 1919.0 586.1 1919.5 588.2 1920.0 590.3 1920.4 592.8 1920.9 595.6 1921.3 597.9 1921.7 600.5 1922.1 603.1 1922.5 605.7 1922.9 607.9 1923.4 610.6 1924.1 612.7 1924.7 614.1 1925.6 614.3 1926.7 614.0 1927.8 613.8 1929.0 614.0 1929.6 615.4 1930.2 617.8 1930.8 620.1 1931.3 622.1 1931.7 624.6 1932.2 626.9 1932.8 629.1 1933.5 632.0 1934.2 634.4 1935.0 636.1 1936.0 637.0 1937.1 636.9 1938.1 636.7 1939.3 636.1 1940.4 635.3 1941.6 633.9 1942.7 633.9 1943.1 635.4 1943.6 637.6 1944.0 640.2 1944.5 642.1 1945.4 644.6 1946.4 646.3 1947.2 647.2 1947.9 646.0 1948.4 643.6 1948.8 640.6 1949.0 638.4 1949.1 636.0 1949.2 633.2 1949.3 630.6 1949.5 628.4 1949.9 625.4 1950.5 623.0 1951.0 621.5 1952.2 622.5 1953.3 624.0 1954.3 623.0 1955.2 620.9 1955.5 619.1 1955.8 617.2 1956.1 615.0 1956.4 612.5 1956.7 610.3 1957.0 607.7 1957.3 605.2 1957.6 602.6 1957.9 600.2 1958.2 598.1 1958.6 595.5 1958.9 593.1 1959.3 590.7 1959.7 588.9 1960.3 586.8 1961.0 584.9 1961.7 583.4 1962.7 582.3 1963.7 581.3 1964.8 580.4 1965.8 580.5 1966.9 581.2 1967.8 581.1 1969.0 580.1 1970.1 578.6 1971.2 576.1 1972.4 573.5 1973.5 571.2 1974.7 569.1 1975.6 568.1 1976.5 567.2 1977.4 567.3 1978.3 567.8 1979.2 568.9 1980.0 570.7 1980.6 572.0 1981.2 573.9 1981.8 575.9 1982.3 578.2 1982.7 580.2 1983.1 582.1 1983.4 584.6 1983.8 586.7 1984.1 589.0 1984.4 591.0 1984.7 593.2 1985.0 595.4 1985.3 597.4 1985.6 599.4 1986.0 601.8 1986.4 604.1 1986.7 606.4 1987.2 608.6 1987.6 610.9 1988.2 612.7 1988.7 614.8 1989.1 616.9 1989.6 619.4 1989.9 621.9 1990.3 624.3 1990.7 626.9 1991.0 629.3 1991.3 631.6 1991.6 634.1 1991.9 636.6 1992.2 639.1 1992.4 641.2 1992.7 643.5 1993.0 645.8 1993.2 648.3 1993.5 650.7 1993.7 652.7 1994.0 655.2 1994.2 657.6 1994.4 660.0 1994.7 662.3 1995.0 664.7 1995.2 666.7 1995.7 669.4 1996.2 671.8 1996.7 674.0 1997.2 675.8 1998.1 678.7 1999.0 680.0 2000.0 679.4 2000.9 677.2 2001.2 675.6 2001.5 673.8 2001.8 671.3 2002.1 669.1 2002.4 666.5 2002.7 664.3 2002.9 662.2 2003.2 659.8 2003.4 657.6 2003.7 655.1 2003.9 652.8 2004.1 650.7 2004.4 648.3 2004.6 646.2 2004.7 643.7 2004.9 641.5 2005.1 639.0 2005.3 637.0 2005.5 634.9 2005.7 632.8 2005.9 630.4 2006.0 628.3 2006.2 626.0 2006.4 623.8 2006.5 621.6 2006.7 619.2 2006.9 616.9 2007.1 614.8 2007.3 612.6 2007.4 610.2 2007.6 607.8 2007.8 605.3 2008.0 602.9 2008.1 600.6 2008.3 598.4 2008.5 596.5 2008.8 593.8 2009.0 591.5 2009.3 589.6 2009.7 587.9 2010.8 586.1 2012.0 585.0 2013.1 585.5 2014.3 586.2 2015.4 586.2 2016.6 585.5 2017.8 583.5 2018.9 581.3 2019.6 578.7 2020.4 576.6 2021.5 575.6 2022.7 575.3 2023.8 576.1 2025.0 577.6 2026.1 579.0 2027.2 581.3 2027.7 582.8 2028.0 584.7 2028.4 586.6 2028.8 588.8 2029.1 590.6 2029.4 592.7 2029.7 595.0 2030.0 597.2 2030.3 599.5 2030.5 601.7 2030.8 603.8 2031.0 606.1 2031.3 608.5 2031.6 610.9 2031.8 613.3 2032.0 615.3 2032.2 617.4 2032.5 619.6 2032.7 621.8 2032.9 624.1 2033.1 626.5 2033.3 628.6 2033.6 630.8 2033.8 633.3 2034.1 635.6 2034.3 637.9 2034.6 640.2 2034.9 642.2 2035.2 644.6 2035.4 647.1 2035.7 649.2 2036.0 651.1 2036.4 652.7 2037.3 655.6 2038.4 656.7 2039.5 655.5 2040.5 652.9 2040.8 651.1 2041.0 649.2 2041.3 646.9 2041.5 644.7 2041.7 642.2 2041.9 640.1 2042.1 637.6 2042.3 635.1 2042.5 632.8 2042.7 630.5 2042.9 628.6 2043.3 625.9 2043.7 623.6 2044.0 621.4 2044.5 619.4 2045.0 616.6 2045.6 614.3 2046.3 612.4 2047.4 611.0 2048.6 610.9 2049.3 612.2 2050.0 614.0 2050.6 616.4 2050.9 618.1 2051.2 620.4 2051.5 622.7 2051.8 625.3 2052.1 627.5 2052.4 629.8 2052.7 632.2 2053.0 634.7 2053.4 636.9 2053.8 638.9 2054.5 641.3 2055.3 643.2 2056.1 644.8 2056.9 646.8 2057.6 648.4 2058.4 650.3 2059.2 652.0 2059.9 654.3 2060.4 656.1 2060.8 658.2 2061.2 660.5 2061.5 662.7 2061.9 665.0 2062.2 667.3 2062.5 669.8 2062.8 672.1 2063.1 674.5 2063.4 677.2 2063.7 679.5 2064.0 681.9 2064.3 684.6 2064.6 686.9 2064.9 689.4 2065.2 691.8 2065.5 694.3 2065.8 697.0 2066.1 699.2 2066.5 701.5 2066.9 704.1 2067.5 706.2 2068.0 708.4 2068.6 710.8 2069.1 712.6 2069.6 714.7 2070.1 716.9 2070.6 719.3 2071.0 721.5 2071.4 723.3 2071.8 725.5 2072.2 727.5 2072.5 729.8 2072.9 732.1 2073.2 734.3 2073.5 736.7 2073.8 739.1 2074.1 741.8 2074.4 744.2 2074.7 746.5 2075.0 749.0 2075.3 751.4 2075.6 753.9 2075.9 756.3 2076.2 758.8 2076.5 761.0 2076.8 763.7 2077.1 766.1 2077.4 768.4 2077.7 771.0 2077.9 773.3 2078.2 776.1 2078.5 778.6 2078.7 781.0 2079.0 783.0 2079.3 785.9 2079.7 788.2 2080.0 790.4 2080.3 792.1 2080.8 795.2 2081.2 796.8 2081.7 795.6 2082.3 792.2 2082.7 790.3 2083.1 788.1 2083.5 785.6 2083.9 783.2 2084.3 780.7 2084.6 778.3 2084.8 776.0 2085.0 773.6 2085.1 771.0 2085.4 768.4 2085.5 766.4 2085.7 764.1 2085.9 761.9 2086.1 759.5 2086.3 757.2 2086.6 754.8 2086.8 752.9 2087.0 750.5 2087.2 748.5 2087.4 746.1 2087.6 743.8 2087.9 741.7 2088.1 739.7 2088.4 737.2 2088.7 734.7 2089.0 732.6 2089.3 730.1 2089.6 728.1 2089.9 726.0 2090.3 723.7 2090.7 721.6 2091.1 719.4 2091.5 717.4 2091.9 715.3 2092.2 713.2 2092.5 710.9 2092.8 708.9 2093.1 706.7 2093.4 704.6 2093.7 702.4 2094.0 700.2 2094.3 698.0 2094.6 695.8 2095.0 693.9 2095.4 691.5 2095.9 689.4 2096.4 687.5 2096.9 685.6 2097.7 683.2 2098.6 681.6 2099.5 680.1 2100.5 679.7 2101.6 679.8 2102.6 680.0 2103.5 679.4 2104.4 678.7 2105.2 677.9 2105.9 676.6 2106.5 674.8 2107.1 672.4 2107.5 670.8 2107.8 668.8 2108.1 666.6 2108.4 664.4 2108.7 662.0 2108.9 659.6 2109.2 657.1 2109.4 654.7 2109.6 652.4 2109.9 649.8 2110.1 647.5 2110.3 645.2 2110.6 642.7 2110.8 640.4 2111.0 638.2 2111.3 635.9 2111.5 633.8 2111.7 631.6 2112.0 629.4 2112.2 627.5 2112.5 625.3 2112.7 623.0 2113.0 620.6 2113.3 618.4 2113.6 616.3 2114.0 614.8 2115.1 612.0 2116.3 611.0 2117.4 611.1 2118.6 612.3 2119.5 613.8 2120.4 615.7 2121.3 617.6 2122.0 619.3 2122.7 621.2 2123.3 623.3 2123.9 625.5 2124.4 627.7 2124.9 630.0 2125.4 632.2 2125.9 634.6 2126.5 636.4 2127.2 638.3 2127.8 640.2 2128.5 642.2 2129.1 643.9 2129.6 646.0 2130.2 647.7 2130.8 649.8 2131.4 651.8 2132.0 653.7 2132.6 655.7 2133.0 657.4 2133.6 659.7 2134.1 661.9 2135.3 663.9 2136.6 666.3 2137.1 668.0 2137.5 669.9 2137.9 671.8 2138.4 674.1 2138.8 676.1 2139.1 678.0 2139.5 680.3 2139.9 682.4 2140.2 684.8 2140.5 687.1 2140.8 689.4 2141.1 691.9 2141.4 694.2 2141.7 697.0 2142.0 699.1 2142.3 701.6 2142.5 703.6 2142.8 706.1 2143.0 708.3 2143.3 710.6 2143.4 713.1 2143.6 715.2 2143.8 717.6 2143.9 719.9 2144.0 722.2 2144.2 724.5 2144.3 726.8 2144.5 729.0 2144.6 731.1 2144.8 733.3 2144.9 735.6 2145.1 738.0 2145.2 739.9 2145.3 741.2 2145.5 742.4 2145.6 743.9 2145.7 746.0 2145.8 749.0 2146.0 753.2 2146.1 755.0 2146.1 756.9 2146.2 759.1 2146.2 761.5 2146.3 763.9 2146.3 766.5 2146.4 769.4 2146.5 772.3 2146.5 775.1 2146.6 778.2 2146.7 781.1 2146.7 783.8 2146.8 786.9 2146.9 789.9 2146.9 792.5 2147.0 795.3 2147.1 797.8 2147.1 800.4 2147.2 802.5 2147.2 804.7 2147.3 806.4 2147.3 807.9 2147.5 812.9 2147.6 815.1 2147.7 815.9 2147.8 816.7 2147.9 818.3 2148.0 820.6 2148.1 822.9 2148.1 825.2 2148.2 827.8 2148.3 830.1 2148.4 832.6 2148.6 835.0 2148.7 837.4 2148.8 839.7 2148.9 841.9 2149.0 844.4 2149.1 846.8 2149.2 849.2 2149.3 851.4 2149.4 854.0 2149.4 856.2 2149.5 858.7 2149.6 861.1 2149.7 863.4 2149.8 865.5 2149.8 868.0 2149.9 870.3 2150.0 872.7 2150.1 875.0 2150.2 877.4 2150.3 879.7 2150.4 882.3 2150.5 884.7 2150.6 887.0 2150.7 889.4 2150.8 891.7 2150.9 894.0 2151.0 896.4 2151.1 898.6 2151.2 901.2 2151.3 903.4 2151.4 906.0 2151.4 908.1 2151.5 910.6 2151.6 913.0 2151.6 915.3 2151.7 917.6 2151.8 920.2 2151.8 922.5 2151.9 924.6 2152.0 927.2 2152.1 929.6 2152.1 931.8 2152.2 934.1 2152.3 936.6 2152.3 938.9 2152.4 941.3 2152.5 943.7 2152.6 945.9 2152.6 948.4 2152.7 950.9 2152.8 953.2 2152.8 955.6 2152.9 957.7 2153.0 960.2 2153.0 962.5 2153.1 965.1 2153.2 967.4 2153.3 969.7 2153.3 971.9 2153.4 974.5 2153.5 976.9 2153.5 979.3 2153.6 981.6 2153.7 983.8 2153.8 986.4 2153.8 988.6 2153.9 991.0 2154.0 993.2 2154.0 995.8 2154.1 998.2 2154.2 1000.5 2154.3 1002.8 2154.3 1004.9 2154.4 1006.7 2154.4 1008.7 2154.5 1010.8 2154.6 1013.5 2154.7 1017.0 2154.7 1018.9 2154.8 1020.9 2154.8 1023.3 2154.9 1025.7 2155.0 1028.4 2155.0 1030.9 2155.1 1033.8 2155.1 1036.3 2155.2 1039.2 2155.3 1041.8 2155.3 1044.6 2155.4 1046.9 2155.5 1049.1 2155.5 1051.2 2155.6 1054.2 2155.7 1056.8 2155.8 1059.3 2155.9 1061.6 2156.0 1063.9 2156.1 1066.0 2156.2 1068.0 2156.3 1070.1 2156.4 1072.6 2156.5 1074.9 2156.6 1077.4 2156.6 1079.5 2156.7 1082.1 2156.8 1084.4 2156.9 1086.8 2156.9 1089.2 2157.0 1091.4 2157.1 1093.9 2157.2 1096.3 2157.2 1098.4 2157.3 1100.8 2157.4 1103.4 2157.5 1105.6 2157.5 1108.1 2157.6 1110.2 2157.7 1112.6 2157.8 1115.1 2157.9 1117.4 2158.0 1119.9 2158.1 1122.2 2158.2 1124.6 2158.4 1126.8 2158.5 1129.3 2158.6 1131.5 2158.7 1134.0 2158.8 1136.3 2158.9 1138.7 2159.0 1141.0 2159.0 1143.6 2159.1 1145.8 2159.2 1148.3 2159.3 1150.4 2159.3 1153.0 2159.4 1155.3 2159.5 1157.6 2159.6 1159.9 2159.7 1162.4 2159.8 1164.7 2159.9 1167.1 2160.0 1169.4 2160.1 1171.8 2160.2 1174.1 2160.3 1176.5 2160.4 1179.0 2160.4 1181.3 2160.5 1183.8 2160.6 1186.1 2160.7 1188.3 2160.8 1190.9 2160.9 1193.1 2161.0 1195.3 2161.1 1197.9 2161.2 1200.3 2161.3 1202.5 2161.4 1205.1 2161.5 1207.4 2161.6 1209.7 2161.7 1212.2 2161.8 1214.7 2161.9 1217.1 2162.0 1219.4 2162.1 1221.5 2162.2 1223.9 2162.3 1226.6 2162.4 1229.0 2162.5 1231.5 2162.6 1233.8 2162.7 1236.0 2162.8 1238.1 2162.9 1240.0 2163.1 1243.3 2163.3 1245.9 2163.5 1248.0 2163.6 1249.9 2163.8 1252.2 2164.0 1252.6 2164.3 1251.9 2164.6 1249.7 2164.8 1248.2 2165.0 1246.0 2165.2 1243.2 2165.5 1239.8 2165.6 1238.0 2165.7 1236.0 2165.9 1233.8 2166.0 1231.5 2166.2 1229.1 2166.3 1226.7 2166.5 1223.9 2166.6 1221.4 2166.7 1219.1 2166.8 1217.1 2167.0 1214.7 2167.1 1212.2 2167.2 1210.0 2167.4 1207.5 2167.5 1205.1 2167.6 1202.7 2167.7 1200.3 2167.9 1197.9 2168.0 1195.4 2168.1 1193.1 2168.2 1190.7 2168.4 1188.4 2168.5 1185.9 2168.6 1183.8 2168.7 1181.3 2168.9 1178.8 2169.0 1176.6 2169.1 1174.4 2169.2 1171.9 2169.3 1169.4 2169.4 1167.0 2169.5 1164.6 2169.6 1162.3 2169.7 1160.1 2169.9 1157.7 2170.0 1155.3 2170.1 1152.8 2170.2 1150.5 2170.3 1148.1 2170.4 1145.9 2170.5 1143.4 2170.6 1141.0 2170.7 1138.9 2170.9 1136.2 2171.0 1133.9 2171.1 1131.7 2171.2 1129.4 2171.3 1126.9 2171.4 1124.5 2171.5 1122.1 2171.6 1119.8 2171.7 1117.5 2171.8 1115.1 2171.9 1112.6 2172.0 1110.3 2172.1 1108.1 2172.2 1105.6 2172.3 1103.3 2172.4 1101.1 2172.5 1098.5 2172.6 1096.3 2172.7 1093.7 2172.8 1091.4 2172.9 1089.0 2173.0 1086.8 2173.1 1084.3 2173.3 1081.9 2173.4 1079.6 2173.5 1077.4 2173.6 1074.8 2173.7 1072.6 2173.8 1070.1 2173.9 1068.2 2173.9 1066.0 2174.0 1063.8 2174.1 1061.5 2174.2 1059.2 2174.2 1056.9 2174.3 1054.3 2174.4 1051.3 2174.5 1049.2 2174.5 1046.8 2174.6 1044.5 2174.7 1041.9 2174.8 1039.2 2174.8 1036.5 2174.9 1033.8 2175.0 1030.8 2175.1 1028.3 2175.1 1025.8 2175.2 1023.3 2175.3 1020.9 2175.3 1018.8 2175.4 1016.8 2175.5 1013.5 2175.6 1010.8 2175.6 1008.7 2175.7 1006.7 2175.7 1005.0 2175.8 1002.7 2175.9 1000.5 2176.0 998.1 2176.1 995.7 2176.2 993.4 2176.3 991.0 2176.4 988.7 2176.5 986.1 2176.6 983.7 2176.7 981.6 2176.8 979.2 2176.8 976.9 2177.0 974.4 2177.1 972.2 2177.2 969.7 2177.3 967.2 2177.4 965.0 2177.5 962.7 2177.7 960.4 2177.8 957.9 2177.9 955.6 2178.0 953.2 2178.0 950.6 2178.1 948.3 2178.2 946.2 2178.3 943.8 2178.4 941.3 2178.5 938.8 2178.6 936.7 2178.7 934.2 2178.8 932.0 2178.9 929.6 2179.0 927.0 2179.1 924.8 2179.2 922.4 2179.3 919.9 2179.4 917.8 2179.5 915.3 2179.6 912.9 2179.7 910.5 2179.8 908.3 2180.0 906.0 2180.1 903.4 2180.2 901.2 2180.3 898.8 2180.4 896.4 2180.5 893.9 2180.7 891.6 2180.8 889.4 2180.9 887.0 2181.0 884.6 2181.1 882.3 2181.3 879.7 2181.4 877.6 2181.5 875.2 2181.6 872.9 2181.7 870.4 2181.8 867.9 2182.0 865.7 2182.1 863.4 2182.2 861.0 2182.3 858.6 2182.5 856.3 2182.6 853.9 2182.8 851.3 2182.9 848.9 2183.0 846.7 2183.2 844.5 2183.4 841.9 2183.5 839.7 2183.7 837.2 2183.9 834.9 2184.0 832.5 2184.2 830.1 2184.5 827.7 2184.7 825.2 2184.9 823.0 2185.1 820.6 2185.3 818.3 2185.5 816.2 2185.6 814.6 2185.8 812.8 2186.0 810.9 2186.2 807.9 2186.3 806.3 2186.5 804.1 2186.6 801.9 2186.8 799.1 2187.0 796.6 2187.2 794.2 2187.3 791.7 2187.5 789.2 2187.7 787.2 2187.9 785.4 2188.3 782.4 2188.7 780.3 2189.1 778.2 2189.5 776.5 2189.9 774.8 2190.3 772.5 2190.6 770.2 2191.0 768.1 2191.4 765.9 2191.7 764.1 2192.1 761.4 2192.5 759.1 2192.8 756.9 2193.2 755.0 2193.8 752.4 2194.4 750.3 2195.1 748.8 2196.3 747.5 2197.5 747.4 2198.5 748.2 2199.3 750.1 2199.8 752.0 2200.2 753.9 2200.7 756.1 2201.2 757.9 2202.1 760.9 2203.1 762.4 2204.1 762.5 2205.1 761.6 2206.2 760.9 2207.2 760.1 2208.2 758.7 2209.2 757.8 2210.4 757.5 2211.7 757.3 2212.7 756.3 2213.3 754.8 2213.6 753.0 2213.9 750.7 2214.3 748.7 2214.7 746.7 2215.2 745.0 2215.7 743.1 2216.1 741.3 2216.6 738.7 2217.0 736.3 2217.6 734.3 2218.5 732.5 2219.6 731.3 2220.7 729.6 2221.6 728.4 2222.6 727.0 2223.4 725.0 2223.9 723.5 2224.3 721.5 2224.6 719.1 2224.9 716.7 2225.2 714.6 2225.4 712.2 2225.6 709.7 2225.8 707.2 2226.0 704.5 2226.2 702.1 2226.4 699.7 2226.7 697.2 2226.9 694.8 2227.1 692.5 2227.2 690.1 2227.4 687.4 2227.6 685.0 2227.8 682.5 2228.0 680.1 2228.2 677.6 2228.5 675.3 2228.8 672.6 2229.2 670.1 2229.5 667.9 2229.9 665.5 2230.4 663.1 2230.9 660.9 2231.3 658.7 2231.8 656.7 2232.2 654.5 2232.7 652.5 2233.2 650.5 2233.6 648.4 2234.1 646.1 2234.6 643.9 2235.1 642.1 2235.9 639.9 2236.6 637.8 2237.4 635.9 2238.4 634.6 2239.4 633.2 2240.5 632.7 2241.4 632.4 2242.4 632.5 2243.4 632.6 2244.3 633.1 2245.4 633.3 2246.4 633.9 2247.3 633.8 2248.2 632.6 2249.1 631.1 2249.9 630.1 2251.1 631.6 2252.4 633.9 2253.2 634.8 2254.0 635.6 2255.0 636.1 2256.1 635.7 2257.3 635.5 2258.5 634.4 2259.4 633.3 2260.3 631.8 2261.0 630.0 2261.6 628.3 2262.1 626.6 2262.6 624.4 2263.0 622.1 2263.4 620.4 2263.7 618.2 2264.0 616.2 2264.3 613.8 2264.6 611.5 2264.8 609.6 2265.0 607.4 2265.2 605.5 2265.4 603.1 2265.6 601.0 2265.8 598.5 2266.0 596.2 2266.2 593.5 2266.5 591.0 2266.7 588.6 2267.0 586.2 2267.2 583.7 2267.6 581.1 2267.9 578.7 2268.3 576.6 2268.8 574.6 2269.3 572.4 2269.7 570.4 2270.1 568.2 2270.5 566.2 2270.8 564.0 2271.3 562.0 2272.0 559.7 2272.8 557.3 2273.7 555.2 2274.5 553.8 2275.4 552.6 2276.3 551.5 2277.3 550.7 2278.4 549.8 2279.3 548.4 2279.9 546.3 2280.4 543.7 2280.9 540.8 2281.5 539.0 2282.4 537.7 2283.3 537.0 2284.2 536.6 2285.1 536.0 2286.0 535.5 2286.9 534.8 2287.7 533.7 2288.6 532.7 2289.5 532.0 2290.5 533.1 2291.6 534.0 2292.6 533.9 2293.8 533.6 2294.9 532.7 2296.0 531.5 2297.1 530.5 2298.3 532.0 2299.4 533.3 2300.3 536.2 2301.1 538.6 2302.0 538.5 2303.0 537.0 2304.0 537.1 2305.2 537.4 2306.3 538.6 2307.1 537.3 2308.0 535.2 2308.9 533.2 2309.8 533.2 2310.6 533.5 2311.4 533.4 2312.5 535.1 2313.7 536.9 2314.7 538.6 2315.9 541.2 2316.9 542.8 2317.8 542.5 2318.6 541.3 2319.4 540.6 2320.7 539.7 2321.7 538.7 2322.1 536.1 2322.3 533.8 2322.6 530.5 2323.4 529.6 2324.3 530.3 2325.1 528.9 2325.6 526.2 2326.1 524.6 2326.5 521.9 2327.0 519.1 2327.4 516.9 2328.5 513.9 2329.5 513.7 2330.3 513.7 2331.1 517.6 2331.5 518.3 2331.8 520.9 2332.2 522.9 2332.6 526.5 2332.8 528.8 2333.1 531.3 2333.4 534.4 2333.7 536.2 2334.0 539.4 2334.3 539.6 2334.7 539.5 2335.0 537.0 2335.3 534.4 2335.7 532.6 2336.2 528.9 2336.8 527.0 2337.3 528.1 2337.8 530.3 2338.3 533.1 2338.7 535.9 2339.1 538.5 2339.5 540.6 2340.0 542.7 2341.2 545.1 2342.3 545.3 2343.3 547.2 2343.5 549.8 2343.8 551.7 2344.0 554.1 2344.2 555.8 2344.4 558.1 2344.6 561.0 2344.8 562.1 2345.1 564.8 2345.3 566.6 2345.6 568.3 2345.9 571.7 2346.2 573.8 2346.6 576.2 2347.0 578.2 2347.4 579.1 2348.6 580.8 2349.9 580.9 2351.0 580.8 2351.8 579.6 2352.5 576.9 2353.1 573.6 2353.8 571.3 2354.5 569.1 2355.0 570.7 2355.5 572.9 2356.0 574.8 2356.3 577.6 2356.5 579.3 2356.8 582.1 2357.0 583.8 2357.5 586.5 2358.0 588.2 2358.6 590.0 2358.9 592.5 2359.3 594.5 2359.6 597.0 2359.9 599.8 2360.1 601.6" stroke="#f00"/>
<path d="M310.45 1760 L310.45 174.1 L311.4 174.1 312.2 174.7 313.2 173.8 314.5 173.2 315.8 170.5 317.0 169.9 318.1 169.5 319.4 170.4 320.5 173.3 321.6 173.4 322.9 175.4 324.0 174.5 325.1 174.1 326.3 173.7 327.5 174.1 328.6 173.1 329.9 171.9 331.1 173.4 332.2 173.8 333.3 175.7 334.3 174.6 335.2 172.9 336.1 171.3 337.1 170.3 338.2 170.9 339.3 171.1 340.5 170.6 341.7 173.0 342.9 172.8 344.1 174.2 345.2 174.4 346.4 174.7 347.6 175.0 348.7 175.5 349.9 175.4 351.0 175.1 352.2 176.9 353.3 176.5 354.4 176.1 355.5 173.9 356.6 172.1 357.6 171.4 358.7 169.4 359.7 171.7 360.6 173.0 361.6 174.4 362.6 176.1 363.8 177.3 364.8 175.7 365.9 174.6 367.1 172.8 368.2 170.0 369.4 167.2 370.5 166.5 371.4 165.1 372.8 166.2 374.0 168.9 375.1 172.5 376.2 173.7 377.2 175.2 378.0 175.1 378.9 172.5 380.0 172.9 381.0 173.7 382.1 172.0 383.2 173.1 384.4 175.4 385.7 175.6 386.7 174.9 387.9 173.1 389.0 173.1 390.2 173.5 391.4 172.9 392.4 172.1 393.3 170.2 394.6 171.9 395.5 171.1 396.3 172.6 397.1 171.3 398.1 172.9 399.0 171.0 400.0 171.5 400.8 172.2 401.7 176.4 402.7 179.2 403.8 180.1 404.6 178.5 405.5 177.2 406.5 173.4 407.5 170.4 408.5 167.6 409.5 167.6 410.6 166.0 411.7 167.1 412.9 167.9 414.0 170.7 415.1 171.6 416.2 172.0 417.4 170.3 418.5 170.4 419.7 169.0 420.8 167.2 421.9 166.4 423.0 169.0 424.1 167.1 425.3 168.2 426.4 168.7 427.6 169.9 428.7 168.6 429.8 169.5 430.9 169.0 432.0 170.1 433.2 168.0 434.3 169.2 435.4 170.3 436.6 172.6 437.7 172.6 438.9 173.7 440.0 175.3 441.0 175.2 442.3 175.4 443.5 177.3 444.6 178.7 445.7 177.9 446.8 175.0 447.9 173.6 449.1 171.7 450.5 169.0 451.4 170.1 452.5 170.3 453.6 171.2 454.8 172.7 456.0 173.7 457.1 175.0 458.1 174.5 459.4 175.1 460.5 173.3 461.6 173.6 462.7 171.7 463.8 168.7 464.9 169.1 466.0 165.6 467.1 164.5 468.1 163.5 469.1 162.9 470.0 164.2 470.8 167.2 471.5 169.6 472.3 174.6 473.0 175.1 473.7 178.1 474.4 175.7 475.1 173.6 475.7 170.7 476.3 167.0 477.1 165.6 478.1 166.0 479.2 166.8 480.4 169.0 481.6 170.4 482.9 168.8 483.9 170.7 485.1 170.3 486.2 172.7 487.4 172.0 488.5 173.8 489.5 173.0 490.8 171.1 492.0 169.3 493.1 168.5 494.3 169.4 495.4 168.0 496.5 169.9 497.6 170.9 498.8 171.9 500.0 173.6 501.1 171.9 502.2 172.6 503.3 171.7 504.4 171.5 505.5 169.8 506.7 170.7 507.8 169.9 508.9 171.1 510.1 172.3 511.2 173.9 512.3 174.9 513.3 173.2 514.5 172.8 515.6 172.8 516.7 172.2 517.9 170.5 519.0 169.5 520.1 171.6 521.3 170.6 522.4 171.2 523.6 172.2 524.7 173.3 525.7 175.9 526.9 175.2 527.9 177.8 528.9 178.9 529.9 179.6 530.9 178.8 532.0 175.8 533.0 173.1 534.1 170.5 535.2 168.7 536.2 168.1 537.2 170.9 538.3 171.3 539.3 173.9 540.4 177.0 541.4 176.3 542.5 176.0 543.6 177.4 544.7 176.4 545.7 174.8 546.9 173.6 548.1 172.4 549.3 170.9 550.5 172.1 551.7 171.9 552.9 176.4 554.0 179.3 555.2 179.7 556.4 180.4 557.6 177.6 558.8 174.6 560.0 172.8 561.2 173.6 562.4 175.9 563.6 176.4 564.8 176.8 566.0 178.7 567.1 180.6 568.3 181.2 569.5 182.6 570.7 180.1 571.9 180.0 573.1 176.0 574.3 174.3 575.4 174.9 576.5 174.0 577.7 175.8 579.0 175.7 580.1 177.0 581.2 179.6 582.3 180.1 583.5 183.5 584.6 185.0 585.7 185.4 586.9 187.1 588.0 184.2 589.1 185.6 590.2 182.9 591.4 184.2 592.4 182.2 593.5 181.8 594.6 182.8 595.7 183.8 596.8 182.0 597.9 182.7 599.0 183.2 600.2 182.7 601.3 184.2 602.5 183.7 603.6 185.7 604.7 187.2 605.7 186.6 606.7 186.4 608.1 184.9 609.2 184.6 610.3 181.8 611.4 182.1 612.6 182.2 613.7 182.0 614.9 185.8 616.2 187.3 617.3 188.0 618.5 189.2 619.6 189.8 620.8 190.5 621.9 190.4 623.2 188.9 624.3 185.7 625.5 183.2 626.7 183.9 627.7 184.6 628.7 185.4 629.7 189.5 630.8 191.6 631.8 192.5 632.8 192.9 633.9 192.0 634.9 189.0 636.0 188.6 637.1 186.8 638.2 186.6 639.3 185.9 640.5 187.2 641.7 186.1 642.8 187.6 643.8 186.3 645.1 188.2 646.1 190.4 647.2 191.2 648.6 191.0 649.5 190.1 650.6 190.6 651.7 189.6 652.8 189.8 654.0 189.0 655.1 189.0 656.2 187.4 657.4 187.6 658.5 188.6 659.6 189.9 660.7 189.1 661.8 190.4 662.9 191.0 664.0 192.2 665.1 193.0 666.3 195.5 667.4 194.3 668.5 196.6 669.5 195.2 670.8 194.5 672.0 195.2 673.1 191.7 674.3 190.9 675.5 190.7 676.6 190.6 677.8 191.6 679.0 191.8 680.1 192.5 681.3 193.5 682.4 196.5 683.6 196.0 684.8 197.0 685.9 197.4 687.0 197.3 688.1 195.5 689.3 194.5 690.5 193.7 691.6 193.6 692.8 193.5 694.0 191.7 695.2 191.4 696.2 192.9 697.1 192.9 698.3 194.0 699.0 196.2 700.0 196.3 701.0 198.4 702.1 198.8 703.4 199.7 704.6 199.9 705.7 200.3 706.9 200.6 708.1 199.4 709.2 199.1 710.5 197.1 711.6 198.6 712.8 198.1 714.0 200.5 715.2 200.3 716.2 202.3 717.3 201.8 718.2 198.6 719.1 198.4 720.0 196.4 720.9 197.3 721.8 198.3 722.8 200.8 723.8 201.5 724.9 204.1 726.1 205.0 727.4 205.6 728.6 206.7 729.8 205.0 731.0 204.0 732.1 202.9 733.3 201.6 734.5 204.6 735.6 204.5 736.8 206.3 738.1 208.8 739.1 208.6 740.3 207.2 741.5 206.3 742.8 204.7 743.8 203.7 744.8 204.3 746.0 203.8 746.7 204.2 747.6 206.1 748.5 203.7 749.5 203.7 750.5 203.8 751.4 203.3 752.5 202.2 753.4 204.2 754.3 204.0 755.2 203.5 756.1 203.1 757.1 202.1 758.0 201.7 759.0 202.5 760.0 202.3 761.0 202.5 761.9 202.5 762.8 201.2 763.7 199.8 764.8 198.5 765.8 200.1 767.0 199.3 768.2 199.8 769.5 199.7 770.5 200.2 771.7 200.0 772.9 200.9 774.0 200.3 775.2 200.0 776.2 200.1 777.5 198.2 778.6 196.6 779.7 195.5 781.0 194.8 782.0 195.5 783.2 197.2 784.4 198.1 785.6 199.5 786.7 199.5 787.9 199.2 789.2 198.4 790.3 197.0 791.4 196.5 792.4 193.7 793.3 193.2 794.2 193.1 795.2 191.8 796.4 192.4 797.6 191.2 798.9 192.5 800.0 191.8 801.0 191.5 801.8 189.7 802.7 189.6 803.8 190.0 804.8 190.0 806.0 190.0 807.1 190.2 808.4 189.9 809.5 191.3 810.7 190.6 811.9 190.7 813.1 189.9 814.2 189.0 815.2 189.8 816.3 188.7 817.2 191.1 818.1 190.2 819.0 192.2 820.1 191.3 821.3 190.5 822.5 190.8 823.8 189.5 825.0 189.0 826.2 187.7 827.5 188.6 828.6 187.9 829.5 187.0 830.6 188.0 831.4 189.3 832.3 189.1 833.3 187.0 834.5 184.5 835.6 182.9 836.8 185.2 838.1 186.0 839.4 188.9 840.6 189.4 841.7 189.7 842.7 186.7 843.8 186.3 844.8 185.2 845.8 184.2 846.8 185.9 847.7 186.3 848.6 187.5 849.6 187.6 850.4 186.3 851.4 185.6 852.3 186.2 853.2 186.3 854.2 187.3 855.2 186.9 856.4 187.2 857.6 184.9 858.9 184.5 860.0 183.2 861.0 183.9 861.8 183.6 862.7 184.2 863.8 185.4 864.8 185.3 866.0 185.1 867.1 184.1 868.4 184.1 869.5 182.4 870.7 183.1 871.9 183.2 873.0 182.7 874.2 182.9 875.2 183.3 876.5 184.2 877.7 185.1 878.9 185.5 880.0 185.7 881.1 185.4 882.2 186.9 883.3 186.8 884.4 186.2 885.4 186.4 886.5 184.9 887.5 184.1 888.6 183.6 889.7 183.8 890.9 182.6 892.1 183.1 893.3 182.9 894.5 184.0 895.7 184.9 896.9 184.7 898.1 185.6 899.3 184.7 900.5 183.4 901.7 182.6 902.9 182.4 904.1 182.9 905.3 182.9 906.5 182.5 907.6 184.1 908.6 184.4 909.5 184.9 910.4 185.2 911.4 185.5 912.6 185.2 913.8 183.3 915.0 181.9 916.2 182.4 917.2 182.0 918.2 182.4 919.1 184.5 920.0 183.7 920.9 183.5 921.8 182.6 922.8 181.5 923.8 181.6 924.9 181.8 926.2 184.5 927.4 187.0 928.6 187.5 929.7 187.2 930.7 185.2 931.7 183.7 932.8 183.0 933.9 182.3 935.0 183.5 936.1 183.8 937.1 184.8 938.1 184.0 939.0 183.0 939.9 181.9 941.0 181.2 942.1 182.4 943.3 182.8 944.6 184.8 945.7 185.1 946.8 185.6 947.7 185.1 948.7 183.8 949.5 184.1 950.5 183.8 951.4 184.1 952.4 184.9 953.3 186.2 954.2 187.1 955.2 187.9 956.2 189.2 957.2 190.7 958.2 190.9 959.1 191.9 960.0 192.4 961.0 193.3 961.9 195.3 962.9 196.4 963.8 198.0 964.8 200.3 965.7 202.2 966.7 203.2 967.7 205.8 968.6 206.6 969.4 208.7 970.1 211.0 970.9 213.7 971.4 215.6 971.8 217.6 972.3 219.3 972.8 221.9 973.2 223.0 973.7 225.9 974.2 226.8 974.7 228.7 975.1 231.2 975.6 232.9 976.2 234.6 977.2 235.9 978.4 238.5 979.6 240.1 980.7 242.1 981.8 244.4 982.9 247.7 983.8 248.8 984.8 251.0 985.7 252.7 986.7 254.4 987.6 255.2 988.6 255.7 989.5 255.6 990.4 254.7 991.4 255.0 992.5 253.7 993.7 253.6 994.9 252.4 996.0 249.8 997.1 248.6 998.1 246.3 999.1 244.7 1000.0 244.1 1001.0 242.7 1001.9 242.2 1002.9 242.4 1003.8 241.9 1004.8 242.3 1005.7 242.4 1006.7 242.4 1007.7 241.0 1008.6 241.0 1009.5 239.1 1010.2 237.7 1010.8 236.0 1011.4 234.0 1012.3 232.3 1013.3 231.2 1014.3 229.3 1015.3 227.5 1016.2 226.3 1017.1 224.5 1018.4 223.3 1019.6 222.3 1020.5 221.1 1021.4 220.6 1022.3 220.4 1023.6 220.6 1024.8 221.7 1025.8 223.3 1026.7 226.0 1027.1 228.0 1027.6 229.7 1028.1 231.3 1028.6 233.4 1029.0 236.2 1029.5 237.8 1030.0 240.5 1030.5 242.5 1030.9 244.8 1031.4 247.0 1031.9 249.7 1032.4 251.8 1033.0 254.1 1033.6 256.7 1034.2 257.9 1034.9 260.2 1035.5 263.0 1036.2 265.2 1036.9 267.2 1037.5 269.4 1038.2 270.9 1038.8 273.9 1039.4 275.5 1040.0 278.0 1041.0 279.6 1041.9 280.8 1042.9 281.4 1043.8 281.1 1044.8 281.2 1045.7 280.9 1046.7 279.4 1047.6 277.6 1048.1 276.0 1048.6 274.0 1049.0 272.0 1049.5 270.4 1049.9 268.6 1050.3 266.0 1050.7 263.8 1051.0 261.7 1051.4 259.9 1051.7 257.2 1052.1 255.0 1052.4 252.8 1052.7 250.3 1053.0 248.1 1053.3 245.9 1053.7 244.1 1054.0 242.2 1054.3 239.2 1054.6 237.0 1054.9 235.1 1055.2 232.4 1055.6 229.9 1056.0 227.8 1056.4 225.2 1056.8 222.7 1057.1 220.4 1057.5 217.7 1057.9 215.7 1058.3 213.4 1058.7 211.5 1059.0 209.6 1059.6 208.1 1060.2 205.5 1061.0 204.2 1061.8 202.1 1062.8 200.3 1063.8 199.2 1064.7 198.1 1065.6 197.0 1066.7 195.5 1067.6 195.3 1068.6 194.8 1069.6 194.3 1070.5 194.7 1071.5 195.2 1072.4 195.7 1073.3 197.0 1074.3 197.7 1075.2 198.9 1076.2 200.5 1077.1 200.6 1078.0 200.4 1079.0 201.3 1080.0 201.2 1081.0 201.8 1081.9 202.0 1082.9 202.4 1083.9 201.6 1084.8 200.1 1085.7 198.8 1086.7 197.8 1087.7 196.3 1088.6 194.9 1089.0 194.5 1090.0 193.4 1090.8 192.5 1091.7 191.5 1092.8 190.4 1094.0 189.3 1095.3 189.6 1096.7 188.4 1097.8 187.4 1099.0 187.4 1100.2 187.6 1101.6 188.1 1102.9 188.1 1104.2 187.9 1105.5 187.1 1106.7 187.2 1107.9 187.9 1109.2 186.8 1110.4 187.0 1111.5 185.9 1112.7 186.3 1113.8 186.2 1115.0 186.6 1116.2 186.6 1117.4 186.1 1118.6 185.3 1119.8 186.0 1121.0 185.9 1122.1 184.5 1123.3 184.9 1124.6 184.9 1125.8 184.4 1127.1 184.2 1128.3 184.9 1129.5 183.9 1130.7 184.3 1131.7 183.3 1133.1 183.5 1134.3 183.7 1135.4 181.7 1136.7 181.7 1137.7 183.2 1138.8 183.7 1139.9 183.7 1141.0 184.0 1142.2 184.5 1143.3 185.4 1144.4 185.0 1145.6 184.5 1146.7 184.4 1147.8 183.0 1148.9 182.9 1150.0 183.3 1151.1 182.9 1152.2 181.8 1153.2 181.9 1154.3 181.7 1155.5 180.9 1156.7 180.1 1157.8 180.1 1158.9 181.1 1160.1 180.8 1161.3 181.4 1162.6 180.8 1163.8 182.4 1165.0 181.3 1166.2 181.7 1167.3 181.3 1168.5 180.5 1169.6 179.8 1170.8 180.0 1172.1 179.3 1173.3 178.7 1174.5 178.8 1175.7 178.6 1177.0 180.0 1178.2 179.1 1179.5 180.3 1180.8 180.0 1182.1 180.6 1183.3 180.0 1184.6 179.6 1185.9 179.4 1187.2 180.2 1188.5 180.3 1189.8 180.3 1191.1 180.6 1192.2 179.3 1193.3 180.2 1194.6 180.4 1195.8 180.9 1196.9 180.0 1197.9 181.3 1198.9 179.9 1200.0 180.8 1201.1 180.2 1202.1 180.2 1203.1 179.3 1204.2 179.3 1205.4 179.0 1206.7 178.9 1207.8 178.8 1209.0 178.5 1210.3 178.4 1211.7 179.0 1213.0 179.9 1214.3 179.7 1215.6 178.7 1216.7 179.5 1218.0 178.9 1219.3 179.4 1220.4 180.7 1221.5 179.8 1222.5 179.5 1223.3 180.1 1224.6 179.1 1225.4 177.5 1226.7 177.4 1227.5 176.7 1228.5 176.8 1229.6 177.0 1230.7 178.1 1232.0 178.7 1233.3 178.7 1234.4 178.6 1235.6 178.5 1236.8 179.5 1238.1 179.8 1239.4 179.2 1240.8 179.4 1242.1 178.8 1243.3 178.5 1244.6 178.2 1245.8 178.9 1247.1 179.2 1248.3 178.6 1249.6 178.3 1250.8 178.4 1252.1 177.6 1253.3 177.6 1254.6 177.3 1255.8 178.3 1257.1 178.2 1258.3 178.1 1259.6 178.6 1260.8 179.0 1262.1 177.8 1263.3 178.2 1264.6 178.7 1265.8 179.3 1267.1 178.7 1268.3 179.1 1269.6 179.6 1270.8 179.1 1272.1 179.7 1273.3 178.6 1274.6 179.0 1275.8 179.0 1277.1 179.0 1278.3 178.0 1279.6 177.8 1280.8 177.4 1282.1 177.0 1283.3 176.6 1284.6 176.4 1285.8 176.3 1287.1 177.7 1288.3 177.8 1289.6 178.0 1290.8 178.4 1292.1 177.9 1293.3 177.8 1294.6 178.3 1295.8 178.1 1297.1 178.2 1298.3 178.2 1299.6 177.2 1300.8 177.0 1302.1 177.4 1303.3 177.6 1304.6 177.2 1305.8 177.4 1307.1 178.0 1308.3 178.3 1309.6 177.2 1310.8 178.9 1312.1 177.8 1313.3 178.7 1314.6 178.9 1315.8 179.8 1317.1 178.9 1318.3 178.8 1319.6 180.4 1320.8 179.7 1322.1 179.9 1323.3 179.9 1324.6 179.7 1325.8 179.2 1327.1 180.0 1328.3 179.4 1329.6 179.7 1330.8 180.3 1332.1 180.2 1333.3 179.0 1334.6 179.0 1335.9 178.5 1337.2 179.2 1338.4 178.4 1339.7 178.2 1341.0 179.3 1342.2 178.6 1343.3 178.9 1344.6 177.6 1345.8 177.2 1347.0 177.4 1348.2 177.1 1349.3 176.0 1350.5 176.2 1351.7 176.0 1352.8 176.0 1353.9 176.0 1355.0 176.2 1356.1 176.4 1357.3 176.6 1358.5 176.8 1360.0 177.0 1361.0 177.0 1362.1 177.2 1363.2 177.2 1364.3 177.4 1365.5 177.3 1366.8 177.5 1368.0 177.5 1369.3 177.6 1370.6 177.7 1372.0 177.6 1373.3 177.6 1374.4 177.6 1375.5 177.6 1376.7 177.7 1377.9 177.5 1379.0 177.6 1380.2 177.6 1381.5 177.5 1382.7 177.5 1383.9 177.4 1385.1 177.3 1386.4 177.4 1387.6 177.3 1388.8 177.3 1390.0 177.3 1391.2 177.4 1392.4 177.4 1393.6 177.6 1394.8 177.7 1396.0 177.7 1397.1 177.8 1398.3 178.0 1399.5 178.1 1400.7 177.5 1401.9 178.9 1403.1 177.8 1404.3 177.9 1405.5 178.2 1406.7 178.5 1407.9 178.7 1409.1 179.5 1410.3 178.3 1411.5 179.2 1412.8 179.0 1414.0 178.5 1415.2 179.9 1416.4 179.8 1417.6 179.0 1418.8 179.8 1420.0 179.2 1421.1 179.6 1422.2 180.0 1423.3 179.6 1424.7 179.1 1426.0 178.6 1427.3 179.1 1428.6 179.2 1429.8 178.7 1431.0 179.0 1432.2 178.1 1433.4 178.4 1434.5 178.7 1435.6 178.6 1436.7 179.0 1438.1 178.3 1439.4 178.6 1440.7 179.5 1441.9 179.1 1443.1 179.1 1444.2 180.1 1445.4 179.8 1446.7 180.1 1447.9 180.6 1449.2 180.3 1450.4 179.7 1451.7 179.6 1452.9 178.9 1454.2 177.8 1455.4 178.5 1456.7 177.1 1457.9 177.2 1459.2 177.9 1460.4 177.5 1461.7 178.6 1462.9 178.8 1464.2 178.6 1465.4 179.6 1466.7 178.7 1467.9 179.3 1469.2 178.9 1470.4 179.7 1471.7 178.3 1472.9 178.5 1474.2 178.8 1475.4 178.1 1476.7 178.8 1477.9 177.8 1479.2 177.7 1480.5 177.7 1481.8 178.7 1483.0 178.7 1484.3 179.0 1485.5 179.1 1486.7 179.9 1487.9 179.2 1489.2 179.5 1490.4 180.1 1491.5 181.4 1492.7 181.8 1493.8 180.9 1495.0 180.9 1496.1 182.4 1497.2 182.1 1498.3 180.7 1499.4 180.7 1500.6 179.5 1501.9 179.9 1503.3 179.2 1504.4 179.8 1505.5 178.9 1506.7 179.5 1507.9 179.1 1509.1 179.2 1510.4 179.9 1511.7 179.2 1513.0 180.0 1514.3 179.6 1515.5 178.8 1516.7 178.9 1517.9 179.9 1519.1 180.1 1520.3 179.3 1521.5 180.6 1522.6 180.1 1523.7 180.7 1524.9 181.5 1526.0 181.7 1527.2 180.7 1528.3 180.8 1529.5 181.0 1530.7 181.5 1531.9 182.0 1533.1 181.4 1534.3 181.5 1535.5 181.4 1536.6 180.7 1537.8 180.4 1538.9 180.9 1540.0 180.5 1541.3 180.8 1542.5 180.7 1543.7 179.7 1544.9 179.3 1546.1 178.8 1547.3 179.3 1548.6 178.8 1550.0 178.7 1551.1 179.0 1552.3 179.4 1553.5 179.4 1554.7 179.2 1556.0 179.6 1557.3 179.7 1558.6 180.3 1559.8 180.1 1561.1 180.4 1562.2 179.6 1563.3 180.5 1564.7 179.2 1566.0 180.4 1567.3 179.0 1568.4 179.8 1569.6 179.1 1570.8 178.8 1572.0 179.7 1573.3 178.8 1574.4 179.7 1575.6 179.0 1576.8 179.4 1578.0 179.9 1579.3 180.5 1580.5 180.9 1581.7 180.7 1582.9 181.7 1584.0 180.5 1585.0 180.9 1586.3 181.2 1587.5 181.4 1588.6 181.2 1589.7 181.3 1590.8 180.2 1592.0 180.4 1593.3 180.3 1594.4 179.3 1595.5 179.5 1596.6 179.4 1597.8 179.5 1599.0 179.3 1600.2 178.5 1601.4 178.5 1602.6 178.5 1603.8 178.1 1605.0 179.1 1606.2 179.3 1607.3 179.0 1608.4 178.3 1609.6 178.9 1610.7 178.1 1611.9 178.4 1613.0 178.6 1614.2 179.3 1615.4 179.3 1616.7 179.4 1617.8 178.9 1619.0 179.6 1620.2 180.2 1621.4 180.6 1622.6 180.0 1623.8 180.4 1625.1 181.2 1626.3 180.1 1627.6 181.1 1628.8 180.4 1630.0 181.5 1631.2 181.2 1632.5 180.1 1633.7 179.8 1635.0 181.0 1636.2 179.7 1637.5 179.8 1638.7 179.5 1639.9 178.9 1641.1 178.3 1642.2 179.1 1643.3 178.4 1644.7 178.6 1646.1 179.4 1647.3 179.9 1648.5 179.2 1649.7 179.7 1650.9 180.7 1652.1 180.4 1653.3 181.3 1654.6 180.5 1655.8 180.0 1656.9 180.2 1658.1 181.1 1659.3 180.4 1660.6 180.9 1661.9 180.6 1663.3 180.3 1664.4 179.5 1665.6 179.8 1666.7 179.2 1667.9 179.7 1669.2 179.5 1670.4 180.6 1671.7 179.4 1672.9 179.7 1674.2 179.2 1675.4 179.4 1676.7 180.3 1677.9 179.9 1679.1 180.2 1680.3 180.7 1681.5 180.7 1682.7 180.0 1683.9 181.0 1685.2 181.0 1686.4 181.0 1687.6 180.9 1688.8 181.6 1690.0 181.2 1691.2 180.3 1692.4 181.5 1693.6 181.1 1694.8 180.4 1696.1 181.1 1697.3 181.3 1698.5 180.9 1699.7 180.4 1700.9 180.9 1702.1 179.7 1703.3 179.6 1704.5 180.2 1705.8 180.5 1707.0 180.7 1708.2 180.9 1709.4 180.8 1710.6 180.7 1711.8 181.4 1713.0 181.2 1714.2 180.8 1715.5 181.4 1716.7 181.3 1717.9 181.8 1719.1 181.7 1720.4 182.1 1721.7 181.7 1722.9 181.2 1724.2 181.4 1725.4 180.8 1726.6 181.1 1727.8 181.8 1728.9 180.4 1730.0 180.9 1731.4 181.0 1732.9 181.5 1734.2 180.8 1735.5 181.8 1736.8 181.0 1738.0 182.5 1739.0 181.2 1740.0 182.1 1741.5 182.2 1742.6 181.7 1743.6 181.0 1744.6 180.9 1745.7 181.2 1746.9 180.9 1748.1 181.0 1749.1 181.3 1750.1 181.5 1751.1 182.2 1752.0 182.8 1753.0 183.5 1753.9 184.1 1754.9 184.6 1755.9 185.4 1756.8 186.4 1757.8 188.1 1758.7 190.3 1759.5 192.5 1760.0 194.3 1760.4 196.0 1760.9 198.2 1761.3 200.2 1761.9 202.4 1762.5 205.1 1763.1 207.4 1763.6 210.0 1764.0 212.7 1764.4 215.1 1764.7 217.4 1765.1 219.9 1765.5 222.2 1765.9 224.2 1766.3 226.5 1766.7 228.6 1767.1 230.7 1767.6 233.0 1768.0 235.2 1768.4 237.5 1769.0 239.1 1769.8 240.3 1770.8 240.9 1772.0 241.5 1773.0 241.4 1774.2 241.2 1775.4 241.0 1776.6 240.4 1777.7 240.0 1778.8 239.5 1779.8 239.2 1780.8 238.9 1782.0 240.0 1783.1 241.5 1784.2 242.4 1785.2 242.6 1786.2 242.0 1787.2 241.3 1788.3 239.8 1789.3 238.0 1790.3 236.0 1791.3 234.2 1792.3 232.5 1793.3 231.3 1794.2 230.9 1795.2 230.9 1796.2 231.2 1797.1 231.1 1798.1 230.7 1799.0 230.6 1800.0 230.2 1801.0 230.2 1801.9 230.8 1802.9 231.3 1803.8 232.1 1804.8 233.1 1805.7 233.5 1806.6 234.1 1807.6 235.0 1808.6 235.6 1809.6 236.6 1810.7 237.4 1811.8 238.4 1812.8 239.3 1814.0 240.2 1815.1 240.9 1816.2 241.8 1817.2 243.3 1818.2 245.6 1819.2 247.3 1820.3 249.3 1821.3 251.0 1822.3 252.8 1823.4 254.8 1824.6 256.6 1825.6 258.0 1826.6 258.9 1827.6 259.7 1828.9 259.2 1829.9 257.2 1830.3 256.0 1830.7 254.0 1831.0 252.0 1831.4 249.8 1831.8 247.7 1832.1 245.6 1832.5 243.4 1832.9 241.1 1833.3 239.1 1833.6 236.9 1834.0 234.7 1834.4 232.4 1834.8 230.3 1835.2 228.4 1836.2 225.8 1837.2 223.6 1838.3 221.7 1839.3 219.8 1840.3 218.3 1841.3 216.9 1842.3 216.2 1843.3 215.7 1844.4 215.9 1845.3 216.3 1846.2 216.8 1847.2 217.8 1848.2 218.6 1849.1 219.4 1850.1 220.2 1851.0 221.3 1852.0 222.4 1853.0 223.3 1854.0 224.6 1854.9 225.6 1855.8 227.0 1856.9 228.3 1857.9 229.7 1858.9 231.5 1859.6 233.4 1860.4 235.8 1861.1 238.3 1861.8 240.5 1862.6 242.8 1863.4 245.1 1864.2 246.8 1865.1 247.5 1866.1 248.1 1867.1 248.4 1868.0 248.8 1869.0 250.1 1870.0 251.4 1871.0 252.9 1871.9 254.2 1872.9 255.7 1873.9 257.4 1874.9 259.0 1875.8 260.1 1876.7 261.5 1877.7 262.5 1878.7 263.4 1879.8 264.4 1881.0 265.0 1882.1 265.6 1883.2 265.8 1884.3 265.8 1885.2 265.2 1886.2 264.9 1887.0 264.1 1888.1 263.2 1889.2 261.9 1890.1 260.3 1891.2 258.1 1892.4 256.0 1893.3 254.7 1894.3 253.4 1895.4 252.1 1896.3 250.5 1897.3 248.4 1898.3 246.6 1899.2 245.1 1900.3 244.0 1901.3 243.4 1902.3 242.4 1903.3 241.1 1904.3 239.1 1905.3 237.5 1906.3 236.0 1907.4 234.7 1908.4 232.8 1909.4 230.9 1910.4 229.0 1911.4 226.9 1912.5 224.8 1913.5 223.0 1914.5 221.4 1915.6 220.3 1916.8 220.1 1917.7 220.6 1918.6 222.3 1919.5 223.7 1920.2 225.9 1920.9 227.8 1921.6 230.0 1922.5 231.4 1923.4 232.8 1924.4 233.7 1925.3 234.0 1926.3 233.7 1927.3 233.6 1928.2 233.8 1929.1 234.6 1930.0 235.7 1930.8 237.5 1931.7 239.6 1932.6 242.3 1933.5 244.4 1934.5 246.3 1935.5 247.8 1936.6 248.9 1937.6 249.3 1938.6 249.5 1939.6 249.3 1940.6 249.2 1941.7 249.0 1942.7 249.1 1943.7 249.6 1944.7 250.0 1945.7 250.4 1946.7 250.2 1947.6 249.6 1948.5 248.1 1948.9 246.7 1949.3 244.5 1949.6 242.5 1950.0 240.5 1950.5 238.4 1951.1 236.7 1951.8 235.3 1952.8 234.7 1953.9 234.6 1954.9 234.1 1955.7 232.8 1956.4 231.1 1957.1 229.0 1957.9 227.0 1958.6 224.4 1959.4 222.2 1960.4 220.7 1961.4 219.5 1962.5 218.9 1963.5 218.6 1964.5 218.9 1965.5 219.2 1966.5 220.1 1967.6 221.4 1968.6 222.4 1969.6 221.9 1970.5 221.1 1971.6 220.3 1972.5 220.1 1973.4 219.6 1974.4 219.5 1975.4 219.2 1976.5 219.3 1977.7 219.3 1978.9 219.6 1980.0 220.1 1981.0 220.6 1982.0 221.2 1983.0 222.0 1983.8 223.0 1984.8 225.0 1985.7 227.6 1986.6 229.9 1987.2 231.7 1987.9 233.6 1988.5 235.5 1989.1 237.7 1989.7 239.6 1990.3 242.1 1990.9 244.4 1991.4 246.6 1992.0 249.3 1992.6 251.8 1993.2 254.4 1993.7 256.6 1994.4 259.3 1995.0 261.5 1995.7 263.6 1996.7 266.0 1997.8 267.1 1999.0 266.9 2000.3 264.8 2000.8 263.5 2001.4 261.6 2001.9 259.5 2002.4 257.3 2002.9 255.0 2003.4 252.6 2003.9 249.9 2004.4 247.4 2004.9 244.8 2005.4 242.3 2005.9 240.0 2006.4 237.5 2006.8 235.1 2007.3 232.7 2007.7 230.2 2008.2 228.3 2009.3 225.8 2010.5 224.2 2011.6 223.6 2012.8 223.4 2013.6 223.8 2014.5 224.5 2015.5 224.7 2016.6 224.1 2017.7 223.4 2018.9 222.2 2019.9 221.3 2020.8 220.4 2021.9 219.4 2022.8 219.4 2023.8 219.4 2024.8 219.6 2025.7 220.1 2026.8 220.7 2027.8 221.5 2028.8 223.1 2029.6 225.0 2030.3 227.2 2031.0 230.0 2031.6 232.0 2032.2 234.3 2032.8 236.7 2033.3 238.9 2033.9 241.6 2034.4 244.0 2034.8 246.2 2035.3 248.3 2036.2 251.0 2037.1 252.5 2038.3 253.1 2039.4 252.5 2040.2 250.9 2041.0 248.9 2041.7 246.5 2042.3 244.7 2042.9 242.8 2043.4 240.8 2044.0 239.2 2045.1 236.4 2046.3 234.6 2047.2 233.6 2048.1 232.8 2049.0 232.7 2049.9 232.9 2050.8 233.9 2051.6 234.8 2052.6 236.6 2053.8 239.1 2054.7 240.4 2055.7 241.8 2056.7 243.5 2057.6 245.3 2058.3 246.9 2058.9 248.9 2059.4 250.7 2059.9 252.9 2060.3 255.0 2060.7 257.1 2061.1 259.2 2061.4 262.0 2061.7 264.2 2062.0 266.5 2062.3 269.2 2062.6 271.6 2063.0 274.2 2063.3 276.6 2063.6 278.9 2063.9 281.6 2064.2 283.8 2064.5 286.3 2064.8 288.7 2065.0 291.3 2065.3 293.9 2065.6 296.1 2066.0 297.6 2067.0 299.1 2068.3 298.5 2069.2 297.7 2070.3 296.5 2071.3 296.1 2072.4 297.0 2073.4 298.4 2074.4 300.0 2075.2 301.8 2076.0 304.2 2076.7 306.1 2077.4 308.0 2078.0 310.0 2078.6 311.5 2079.5 312.7 2080.5 312.9 2081.6 312.3 2082.8 310.6 2083.5 308.8 2084.1 306.9 2084.7 304.6 2085.2 302.8 2085.6 301.0 2086.1 298.8 2086.6 297.0 2087.1 295.1 2087.7 293.2 2088.3 291.1 2088.9 289.5 2089.7 286.9 2090.6 284.6 2091.4 282.5 2092.1 280.5 2092.8 278.6 2093.5 276.6 2094.2 275.0 2095.1 272.3 2096.0 270.0 2096.9 268.2 2097.8 266.3 2098.6 265.2 2099.5 264.2 2100.5 263.6 2101.6 263.3 2102.6 262.6 2103.5 261.8 2104.3 260.5 2105.2 258.9 2106.0 256.7 2106.8 254.5 2107.6 251.9 2108.1 250.2 2108.6 247.8 2109.0 245.8 2109.4 243.8 2109.9 241.6 2110.3 239.2 2110.8 237.3 2111.3 235.1 2111.9 232.7 2112.5 230.5 2113.2 228.4 2114.0 226.4 2114.9 225.0 2115.8 223.8 2116.9 223.5 2118.1 223.5 2119.3 223.4 2120.3 223.6 2121.3 223.5 2122.2 223.6 2123.1 224.3 2124.2 225.1 2125.2 226.2 2126.2 227.7 2127.2 229.3 2128.2 231.2 2129.2 233.7 2130.0 236.0 2130.7 238.3 2131.3 241.0 2132.0 243.7 2132.5 246.2 2133.0 248.5 2133.6 251.0 2134.1 253.7 2134.8 255.6 2135.5 258.0 2136.2 260.0 2136.9 261.8 2137.5 263.7 2138.0 265.5 2138.6 267.3 2139.1 269.4 2139.6 271.6 2140.0 273.5 2140.4 275.8 2140.7 278.0 2141.1 280.1 2141.5 282.6 2141.9 285.1 2142.3 287.3 2142.6 289.9 2143.0 292.3 2143.3 294.8 2143.6 297.1 2143.9 299.5 2144.2 302.1 2144.5 304.7 2144.7 306.6 2144.9 308.8 2145.1 310.7 2145.3 313.1 2145.6 315.1 2145.8 317.6 2146.0 319.8 2146.2 322.2 2146.4 324.4 2146.7 326.9 2146.9 329.3 2147.1 331.7 2147.3 334.1 2147.5 336.6 2147.7 339.1 2148.0 341.4 2148.2 343.7 2148.4 346.0 2148.6 348.5 2148.8 350.8 2149.0 353.3 2149.2 355.6 2149.4 357.4 2149.6 359.4 2149.9 361.4 2150.0 363.6 2150.2 366.2 2150.4 368.6 2150.6 371.7 2150.7 373.6 2150.7 375.8 2150.8 378.1 2150.8 380.6 2150.9 383.1 2150.9 385.7 2151.0 388.3 2151.0 390.8 2151.1 393.5 2151.2 395.9 2151.2 398.4 2151.3 400.8 2151.4 402.9 2151.6 405.6 2151.8 408.0 2152.0 410.3 2152.2 412.7 2152.4 414.7 2152.6 417.1 2152.8 419.2 2153.1 421.2 2153.3 423.4 2153.5 425.8 2153.7 428.1 2153.9 430.3 2154.1 432.5 2154.3 434.8 2154.5 437.2 2154.7 439.3 2154.9 441.6 2155.1 444.0 2155.2 446.4 2155.4 448.4 2155.6 451.0 2155.8 453.0 2156.0 455.3 2156.1 457.6 2156.3 460.0 2156.5 462.2 2156.6 464.6 2156.8 466.8 2157.0 469.1 2157.1 471.5 2157.3 473.7 2157.5 475.9 2157.7 478.4 2157.8 480.6 2158.0 482.9 2158.2 485.3 2158.4 487.4 2158.5 489.7 2158.7 492.0 2158.9 494.3 2159.0 496.6 2159.2 498.9 2159.3 501.3 2159.5 503.7 2159.6 506.2 2159.8 508.5 2159.9 510.8 2160.1 513.1 2160.2 515.0 2160.3 517.1 2160.5 519.9 2160.7 522.8 2161.0 525.1 2161.1 527.6 2161.3 530.0 2161.5 532.1 2161.7 534.4 2162.0 537.1 2162.2 539.5 2162.4 541.9 2162.7 543.8 2162.9 545.6 2163.1 548.2 2163.3 549.9 2163.5 551.4 2163.9 553.5 2164.2 554.4 2164.6 553.4 2165.0 551.5 2165.3 549.7 2165.7 547.0 2165.9 545.4 2166.2 543.4 2166.5 541.1 2166.8 538.9 2167.1 536.7 2167.4 534.4 2167.7 531.9 2168.0 529.6 2168.3 527.2 2168.6 524.7 2168.9 521.9 2169.1 519.4 2169.4 517.1 2169.6 515.0 2169.9 512.7 2170.1 510.5 2170.4 508.0 2170.6 505.8 2170.9 503.3 2171.1 501.1 2171.3 498.8 2171.6 496.6 2171.8 494.3 2172.1 492.0 2172.3 489.7 2172.6 487.5 2172.8 485.0 2173.1 483.0 2173.3 480.5 2173.6 478.2 2173.8 476.1 2174.0 473.6 2174.3 471.5 2174.5 469.0 2174.8 466.6 2175.0 464.3 2175.3 461.7 2175.5 459.3 2175.8 456.7 2176.0 454.3 2176.2 451.8 2176.5 449.3 2176.7 446.9 2177.0 444.4 2177.2 442.0 2177.5 439.4 2177.7 437.1 2178.0 434.6 2178.2 432.0 2178.5 429.6 2178.8 427.0 2179.0 424.4 2179.2 422.3 2179.4 420.1 2179.6 417.2 2179.8 415.0 2179.9 412.9 2180.1 410.9 2180.3 408.3 2180.5 406.1 2180.7 403.8 2180.9 401.4 2181.1 398.8 2181.4 396.1 2181.6 393.7 2181.8 391.3 2182.0 389.2 2182.2 386.9 2182.5 384.8 2182.7 382.5 2182.9 380.6 2183.1 378.2 2183.3 376.1 2183.6 374.1 2183.8 371.6 2184.0 369.4 2184.2 367.3 2184.4 365.2 2184.6 362.8 2184.9 360.8 2185.1 358.3 2185.4 355.6 2185.7 353.3 2186.0 350.8 2186.4 348.7 2186.9 346.5 2187.4 344.4 2188.0 342.9 2188.7 341.0 2189.6 339.3 2190.7 337.6 2191.7 335.9 2192.8 334.0 2193.8 332.0 2194.8 330.4 2195.9 328.1 2197.0 326.7 2198.0 326.1 2199.1 326.3 2200.1 326.7 2201.1 327.4 2202.1 328.3 2203.1 329.0 2204.2 329.4 2205.2 329.4 2206.2 329.7 2207.2 330.5 2208.2 331.1 2209.2 331.6 2210.1 331.6 2211.1 331.6 2212.1 331.0 2213.0 330.4 2214.0 329.6 2215.0 328.9 2215.9 327.7 2216.9 326.6 2217.8 325.7 2218.8 324.6 2219.8 323.3 2220.7 322.2 2221.7 320.3 2222.6 318.2 2223.4 316.1 2223.9 314.2 2224.4 312.0 2224.8 309.8 2225.2 307.7 2225.6 305.7 2226.0 303.4 2226.4 301.4 2226.7 299.0 2227.1 296.8 2227.4 294.8 2227.7 292.8 2228.0 290.7 2228.3 288.6 2228.6 286.2 2229.0 283.9 2229.3 281.6 2229.7 279.2 2230.1 277.1 2230.6 274.8 2231.1 272.3 2231.6 270.0 2232.2 267.9 2232.9 265.6 2233.8 263.1 2234.9 260.8 2235.9 258.8 2236.9 257.2 2237.9 255.5 2239.0 254.2 2239.9 253.5 2240.8 252.7 2241.8 252.0 2242.8 251.2 2243.7 250.6 2244.7 250.2 2245.7 249.8 2246.6 249.1 2247.6 247.7 2248.6 246.3 2249.6 245.1 2250.5 244.9 2251.5 245.0 2252.5 245.2 2253.4 245.2 2254.5 245.0 2255.4 244.7 2256.5 244.8 2257.4 245.3 2258.4 245.8 2259.4 246.4 2260.3 246.8 2261.4 246.4 2262.4 245.9 2263.3 245.0 2264.0 243.4 2264.6 241.4 2265.2 238.9 2265.6 237.1 2266.1 234.9 2266.6 232.7 2267.1 230.8 2268.1 228.6 2269.1 226.8 2270.2 225.2 2271.2 224.2 2272.2 223.1 2273.2 222.1 2274.1 221.1 2275.1 220.3 2276.1 219.4 2277.0 218.5 2278.0 217.1 2279.0 215.6 2279.9 214.3 2280.9 213.1 2281.8 212.3 2282.8 211.7 2283.8 211.4 2284.7 210.7 2285.8 210.7 2286.7 210.7 2287.7 210.5 2288.6 209.9 2289.5 209.3 2290.5 209.9 2291.5 210.4 2292.6 212.5 2293.8 213.0 2294.7 212.0 2295.7 211.6 2296.7 210.4 2297.6 210.0 2298.7 209.7 2299.7 210.7 2300.7 211.4 2301.7 212.6 2302.7 215.0 2303.7 215.9 2304.7 217.6 2305.7 218.5 2306.8 219.1 2307.8 219.0 2308.8 215.9 2309.8 215.6 2310.8 215.5 2311.8 217.4 2312.9 219.6 2313.6 221.5 2314.4 224.5 2315.1 226.8 2315.9 228.7 2316.9 227.4 2317.9 225.0 2319.0 222.8 2320.0 221.4 2321.0 218.9 2322.0 217.3 2323.1 216.4 2324.1 216.3 2325.0 215.9 2325.8 217.8 2326.6 218.2 2327.4 216.0 2328.3 213.6 2329.2 211.7 2330.2 211.6 2331.1 215.2 2331.5 216.9 2331.9 219.7 2332.2 221.8 2332.7 223.2 2333.7 225.6 2335.0 227.3 2335.9 227.9 2336.9 229.2 2337.7 232.0 2338.3 233.3 2338.7 236.2 2339.2 237.9 2340.0 239.9 2340.9 242.6 2341.8 244.0 2342.6 246.4 2343.4 248.4 2344.1 250.4 2344.9 253.2 2345.5 255.5 2346.0 257.1 2346.5 258.7 2347.1 259.8 2348.1 262.1 2349.2 263.0 2350.2 263.3 2351.4 260.8 2352.5 259.9 2353.7 257.8 2354.8 257.9 2355.3 259.9 2355.8 262.3 2356.3 264.6 2356.6 267.2 2356.9 269.5 2357.2 271.8 2357.5 275.2 2357.8 277.5 2358.1 279.1 2358.5 281.7 2358.8 284.9 2359.1 287.0 2359.3 289.4 2359.6 292.1 2359.8 293.9 2360.0 295.9 2360.1 297.5" stroke="#00f"/>
</g>
<g font-size="108.5"><text x="310.3" y="1829.2" text-anchor="middle">4000</text><text x="630.9" y="1829.2" text-anchor="middle">3500</text><text x="951.4" y="1829.2" text-anchor="middle">3000</text><text x="1272.0" y="1829.2" text-anchor="middle">2500</text><text x="1592.6" y="1829.2" text-anchor="middle">2000</text><text x="1913.1" y="1829.2" text-anchor="middle">1500</text><text x="2233.7" y="1829.2" text-anchor="middle">1000</text><text x="275.5" y="105.3" text-anchor="end">100</text><text x="275.5" y="433.0" text-anchor="end">90</text><text x="275.5" y="760.7" text-anchor="end">80</text><text x="275.5" y="1088.3" text-anchor="end">70</text><text x="275.5" y="1416.0" text-anchor="end">60</text><text x="275.5" y="1743.7" text-anchor="end">50</text></g>
<g transform="translate(796.0 1977.0)" font-size="107.8"><text x="0" y="0">Wavenumber</text><text class="cjk" font-size="107.8" transform="translate(619.7 -4.8) scale(1 0.824)">（</text><text x="737.1" y="0">cm<tspan class="mn" font-size="79.4" dx="-1.5" dy="-41.5">−</tspan><tspan font-size="73.5" dx="-3" dy="-2.5">1</tspan></text><text class="cjk" font-size="107.8" transform="translate(960.0 -4.8) scale(1 0.824)">）</text></g>
<g transform="translate(115.9 1319.5) rotate(-90)" font-size="107.8"><text x="0" y="0">Reflectance</text><text class="cjk" font-size="107.8" transform="translate(523.9 -4.8) scale(1 0.824)">（</text><text x="637.5" y="2" font-size="112.1">%</text><text class="cjk" font-size="107.8" transform="translate(758.2 -4.8) scale(1 0.824)">）</text></g>
<line x1="390" x2="580" y1="1199.8" y2="1199.8" stroke="#000" stroke-width="6" stroke-linecap="round"/>
<text x="599.6" y="1227.5" font-size="85.2">IP-DMTDA<tspan font-size="56.7" dy="23.4">60</tspan><tspan dy="-23.4">-TMP</tspan><tspan font-size="56.7" dy="23.4">40</tspan></text>
<line x1="390" x2="580" y1="1324.8" y2="1324.8" stroke="#f00" stroke-width="6" stroke-linecap="round"/>
<text x="599.6" y="1353.0" font-size="85.2">IP-PTMG<tspan font-size="56.7" dy="23.4">90</tspan><tspan dy="-23.4">-PCL</tspan><tspan font-size="56.7" dy="23.4">10</tspan></text>
<line x1="390" x2="580" y1="1449.0" y2="1449.0" stroke="#00f" stroke-width="6" stroke-linecap="round"/>
<text x="599.6" y="1478.0" font-size="85.2">IP-MCDEA<tspan font-size="56.7" dy="23.4">60</tspan><tspan dy="-23.4">-TMP</tspan><tspan font-size="56.7" dy="23.4">40</tspan></text>
</svg>
</body></html>
